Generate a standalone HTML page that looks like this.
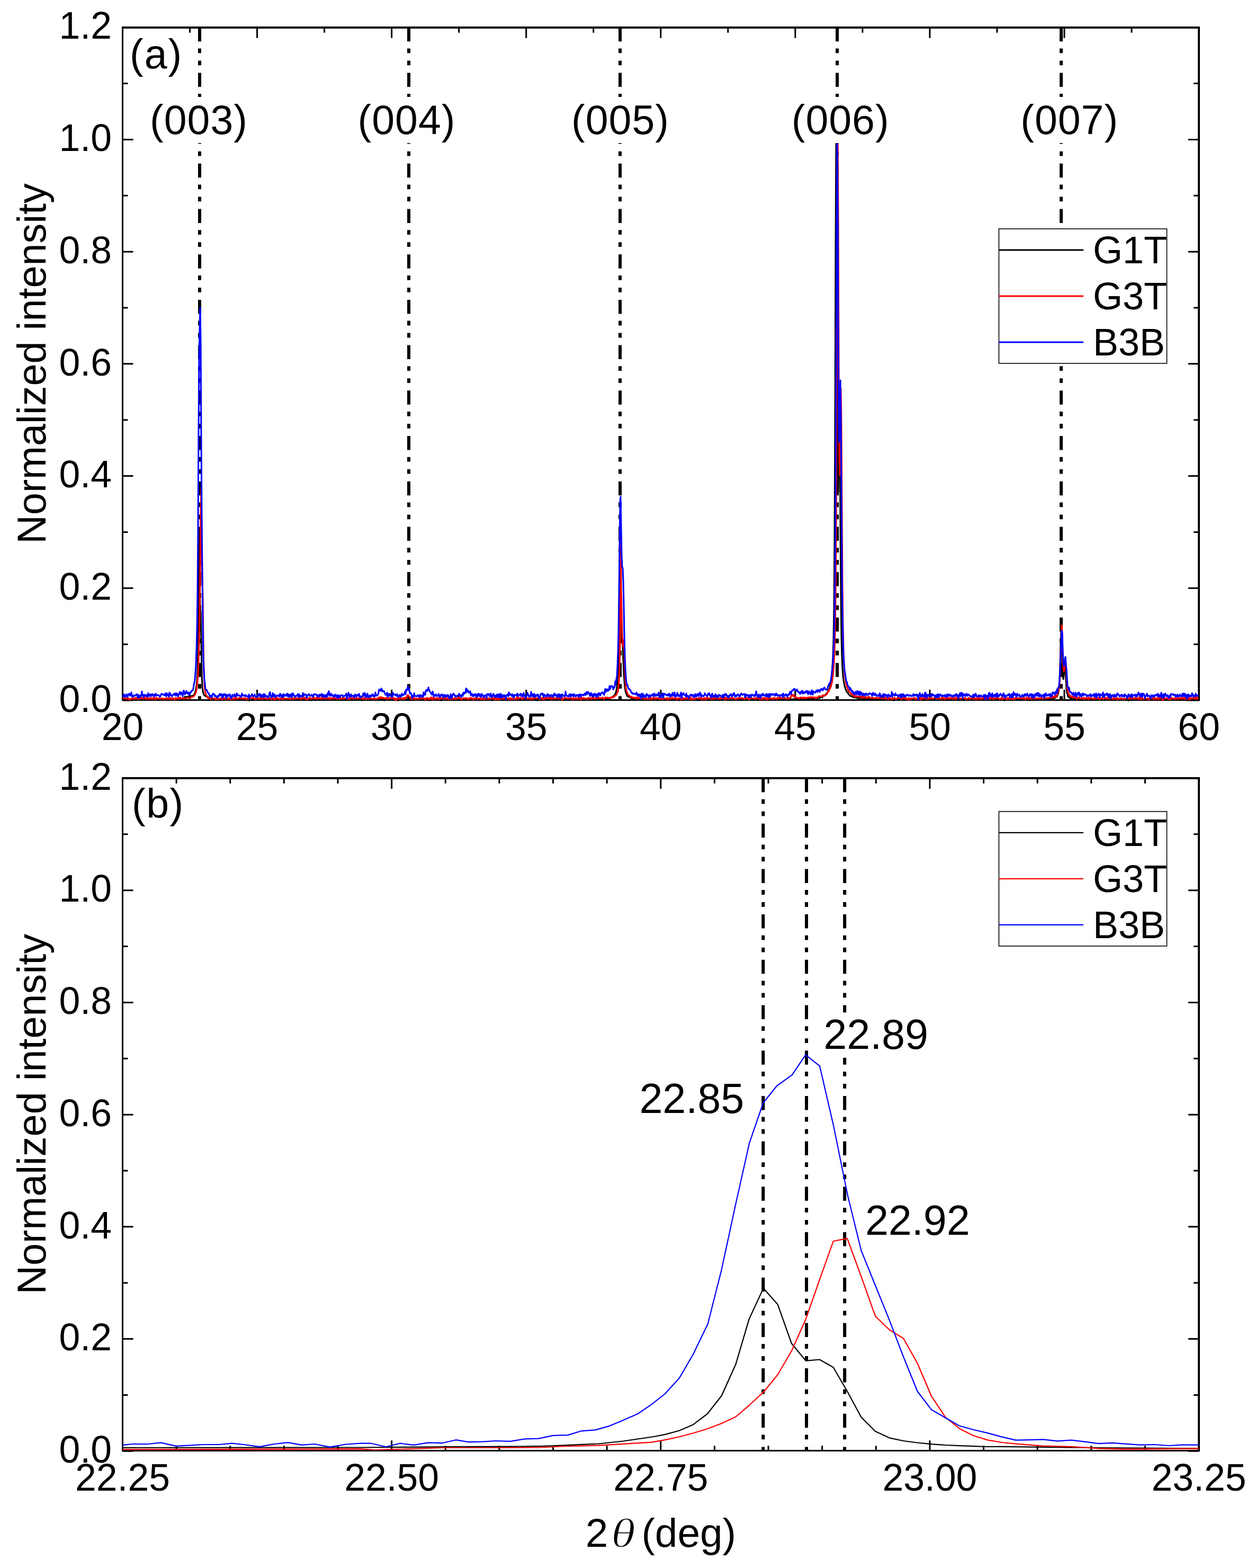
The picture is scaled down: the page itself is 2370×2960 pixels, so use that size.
<!DOCTYPE html>
<html><head><meta charset="utf-8"><title>XRD</title><style>html,body{margin:0;padding:0;background:#fff;}svg{display:block;}</style></head><body>
<svg width="2370" height="2960" viewBox="0 0 2370 2960" font-family="'Liberation Sans', sans-serif" fill="#000">
<rect width="2370" height="2960" fill="#fff"/>
<path d="M231.50,1322.00v-20M231.50,51.70v20M485.56,1322.00v-20M485.56,51.70v20M739.62,1322.00v-20M739.62,51.70v20M993.69,1322.00v-20M993.69,51.70v20M1247.75,1322.00v-20M1247.75,51.70v20M1501.81,1322.00v-20M1501.81,51.70v20M1755.88,1322.00v-20M1755.88,51.70v20M2009.94,1322.00v-20M2009.94,51.70v20M2264.00,1322.00v-20M2264.00,51.70v20M358.53,1322.00v-10M358.53,51.70v10M612.59,1322.00v-10M612.59,51.70v10M866.66,1322.00v-10M866.66,51.70v10M1120.72,1322.00v-10M1120.72,51.70v10M1374.78,1322.00v-10M1374.78,51.70v10M1628.84,1322.00v-10M1628.84,51.70v10M1882.91,1322.00v-10M1882.91,51.70v10M2136.97,1322.00v-10M2136.97,51.70v10M231.50,1322.00h20M2264.00,1322.00h-20M231.50,1216.14h10M2264.00,1216.14h-10M231.50,1110.28h20M2264.00,1110.28h-20M231.50,1004.42h10M2264.00,1004.42h-10M231.50,898.57h20M2264.00,898.57h-20M231.50,792.71h10M2264.00,792.71h-10M231.50,686.85h20M2264.00,686.85h-20M231.50,580.99h10M2264.00,580.99h-10M231.50,475.13h20M2264.00,475.13h-20M231.50,369.28h10M2264.00,369.28h-10M231.50,263.42h20M2264.00,263.42h-20M231.50,157.56h10M2264.00,157.56h-10M231.50,51.70h20M2264.00,51.70h-20" stroke="#000" stroke-width="3.0" fill="none"/>
<path d="M230,50h2036v4h-2036z M230,1320h2036v3h-2036z M230,50h3v1273h-3z M2262,50h4v1273h-4z" fill="#000"/>
<line x1="377" y1="51.7" x2="377" y2="1322.0" stroke="#000" stroke-width="6" stroke-dasharray="26.5 13.2 8.8 14.2 8.8 14.2"/>
<line x1="772" y1="51.7" x2="772" y2="1322.0" stroke="#000" stroke-width="6" stroke-dasharray="26.5 13.2 8.8 14.2 8.8 14.2"/>
<line x1="1171" y1="51.7" x2="1171" y2="1322.0" stroke="#000" stroke-width="6" stroke-dasharray="26.5 13.2 8.8 14.2 8.8 14.2"/>
<line x1="1581" y1="51.7" x2="1581" y2="1322.0" stroke="#000" stroke-width="6" stroke-dasharray="26.5 13.2 8.8 14.2 8.8 14.2"/>
<line x1="2004" y1="51.7" x2="2004" y2="1322.0" stroke="#000" stroke-width="6" stroke-dasharray="26.5 13.2 8.8 14.2 8.8 14.2"/>
<polyline points="232.0,1321.4 233.0,1321.0 234.0,1320.4 235.0,1321.1 236.0,1321.4 237.0,1321.7 238.0,1320.3 239.0,1320.8 240.0,1321.1 241.0,1321.3 242.0,1322.3 243.0,1320.7 244.0,1321.3 245.0,1320.7 246.0,1319.8 247.0,1320.9 248.0,1320.8 249.0,1320.1 250.0,1320.8 251.0,1320.6 252.0,1321.4 253.0,1321.3 254.0,1321.7 255.0,1320.1 256.0,1319.9 257.0,1321.0 258.0,1320.8 259.0,1320.9 260.0,1319.0 261.0,1320.0 262.0,1320.7 263.0,1320.2 264.0,1319.8 265.0,1321.3 266.0,1320.2 267.0,1320.2 268.0,1320.6 269.0,1320.1 270.0,1319.8 271.0,1320.6 272.0,1320.8 273.0,1320.0 274.0,1320.5 275.0,1320.3 276.0,1319.4 277.0,1320.4 278.0,1320.6 279.0,1321.4 280.0,1320.4 281.0,1320.4 282.0,1320.2 283.0,1320.2 284.0,1320.1 285.0,1320.4 286.0,1320.5 287.0,1320.2 288.0,1321.0 289.0,1321.2 290.0,1321.2 291.0,1320.5 292.0,1321.7 293.0,1320.9 294.0,1320.7 295.0,1320.4 296.0,1321.2 297.0,1320.5 298.0,1320.6 299.0,1320.9 300.0,1320.5 301.0,1320.7 302.0,1321.3 303.0,1320.8 304.0,1321.2 305.0,1319.4 306.0,1320.7 307.0,1321.0 308.0,1321.5 309.0,1320.6 310.0,1320.4 311.0,1320.6 312.0,1321.4 313.0,1321.2 314.0,1321.3 315.0,1320.5 316.0,1321.1 317.0,1320.6 318.0,1319.5 319.0,1321.8 320.0,1320.7 321.0,1320.6 322.0,1321.5 323.0,1319.9 324.0,1320.8 325.0,1320.4 326.0,1320.2 327.0,1319.7 328.0,1321.0 329.0,1321.0 330.0,1321.4 331.0,1321.4 332.0,1319.4 333.0,1320.9 334.0,1321.7 335.0,1320.2 336.0,1319.5 337.0,1321.2 338.0,1320.6 339.0,1321.5 340.0,1321.9 341.0,1320.7 342.0,1321.3 343.0,1321.3 344.0,1320.6 345.0,1320.3 346.0,1320.4 347.0,1317.9 348.0,1316.4 349.0,1315.6 350.0,1315.5 351.0,1315.5 352.0,1315.4 353.0,1315.4 354.0,1315.3 355.0,1315.3 356.0,1315.2 357.0,1315.2 358.0,1314.9 359.0,1314.6 360.0,1314.3 361.0,1314.0 362.0,1313.8 363.0,1313.6 364.0,1313.5 365.0,1313.1 366.0,1312.0 367.0,1310.4 368.0,1308.7 369.0,1305.2 370.0,1300.0 371.0,1294.0 372.0,1284.5 373.0,1264.9 374.0,1222.9 375.0,1127.9 376.0,1021.6 377.0,1072.6 378.0,1147.4 379.0,1155.3 380.0,1206.4 381.0,1270.1 382.0,1296.5 383.0,1304.3 384.0,1308.7 385.0,1311.3 386.0,1312.9 387.0,1313.6 388.0,1313.9 389.0,1314.4 390.0,1314.8 391.0,1315.3 392.0,1315.7 393.0,1316.0 394.0,1316.3 395.0,1318.3 396.0,1320.3 397.0,1320.4 398.0,1320.6 399.0,1320.5 400.0,1320.1 401.0,1320.3 402.0,1320.9 403.0,1320.2 404.0,1321.0 405.0,1319.5 406.0,1319.9 407.0,1320.6 408.0,1321.0 409.0,1320.3 410.0,1320.7 411.0,1321.1 412.0,1320.3 413.0,1320.5 414.0,1320.0 415.0,1320.7 416.0,1319.4 417.0,1319.5 418.0,1321.6 419.0,1321.9 420.0,1321.2 421.0,1319.6 422.0,1320.2 423.0,1320.5 424.0,1320.4 425.0,1321.4 426.0,1320.5 427.0,1321.2 428.0,1320.4 429.0,1320.8 430.0,1320.9 431.0,1320.9 432.0,1320.2 433.0,1319.4 434.0,1321.7 435.0,1320.1 436.0,1320.8 437.0,1319.6 438.0,1319.9 439.0,1321.1 440.0,1320.5 441.0,1319.7 442.0,1319.5 443.0,1321.0 444.0,1321.2 445.0,1320.4 446.0,1319.7 447.0,1320.0 448.0,1320.4 449.0,1320.2 450.0,1320.2 451.0,1320.5 452.0,1321.2 453.0,1320.1 454.0,1320.3 455.0,1320.0 456.0,1320.6 457.0,1320.9 458.0,1320.1 459.0,1320.0 460.0,1319.4 461.0,1321.4 462.0,1320.9 463.0,1320.7 464.0,1319.2 465.0,1322.0 466.0,1320.0 467.0,1321.1 468.0,1321.2 469.0,1320.1 470.0,1320.1 471.0,1322.6 472.0,1321.4 473.0,1320.6 474.0,1320.9 475.0,1319.9 476.0,1321.1 477.0,1320.8 478.0,1322.0 479.0,1320.3 480.0,1320.6 481.0,1320.1 482.0,1321.0 483.0,1319.4 484.0,1321.0 485.0,1319.5 486.0,1319.4 487.0,1321.2 488.0,1320.5 489.0,1321.0 490.0,1321.7 491.0,1320.3 492.0,1320.6 493.0,1319.8 494.0,1319.6 495.0,1321.7 496.0,1320.8 497.0,1320.4 498.0,1320.1 499.0,1320.5 500.0,1321.1 501.0,1320.8 502.0,1320.2 503.0,1321.4 504.0,1321.5 505.0,1321.4 506.0,1321.1 507.0,1319.8 508.0,1320.9 509.0,1320.2 510.0,1319.8 511.0,1319.9 512.0,1320.5 513.0,1320.7 514.0,1320.7 515.0,1320.8 516.0,1321.1 517.0,1320.3 518.0,1320.1 519.0,1321.0 520.0,1321.2 521.0,1320.7 522.0,1320.6 523.0,1320.1 524.0,1320.5 525.0,1320.6 526.0,1321.6 527.0,1320.9 528.0,1320.9 529.0,1321.0 530.0,1320.4 531.0,1320.6 532.0,1321.1 533.0,1320.4 534.0,1319.9 535.0,1319.2 536.0,1320.7 537.0,1320.9 538.0,1320.1 539.0,1319.6 540.0,1321.0 541.0,1320.2 542.0,1320.8 543.0,1320.1 544.0,1321.1 545.0,1320.9 546.0,1320.8 547.0,1320.7 548.0,1321.4 549.0,1320.8 550.0,1321.2 551.0,1319.5 552.0,1319.8 553.0,1321.0 554.0,1320.9 555.0,1320.4 556.0,1321.0 557.0,1321.0 558.0,1320.2 559.0,1319.9 560.0,1320.3 561.0,1319.8 562.0,1320.6 563.0,1320.7 564.0,1320.9 565.0,1320.9 566.0,1321.1 567.0,1319.7 568.0,1320.1 569.0,1320.7 570.0,1320.6 571.0,1321.2 572.0,1320.3 573.0,1320.8 574.0,1320.8 575.0,1320.8 576.0,1321.6 577.0,1321.0 578.0,1319.7 579.0,1321.2 580.0,1321.2 581.0,1320.8 582.0,1321.2 583.0,1321.3 584.0,1321.4 585.0,1321.3 586.0,1320.7 587.0,1322.1 588.0,1321.6 589.0,1321.5 590.0,1320.7 591.0,1321.2 592.0,1320.4 593.0,1321.2 594.0,1320.0 595.0,1321.8 596.0,1319.5 597.0,1321.5 598.0,1320.9 599.0,1321.3 600.0,1320.8 601.0,1319.7 602.0,1320.1 603.0,1321.0 604.0,1320.4 605.0,1319.6 606.0,1320.3 607.0,1320.8 608.0,1320.4 609.0,1320.4 610.0,1321.8 611.0,1321.0 612.0,1320.6 613.0,1319.5 614.0,1320.2 615.0,1320.5 616.0,1321.6 617.0,1320.9 618.0,1321.6 619.0,1320.6 620.0,1321.0 621.0,1320.1 622.0,1320.7 623.0,1320.6 624.0,1320.4 625.0,1320.1 626.0,1320.8 627.0,1321.0 628.0,1320.5 629.0,1318.7 630.0,1321.0 631.0,1321.1 632.0,1320.4 633.0,1321.6 634.0,1320.3 635.0,1321.4 636.0,1320.8 637.0,1320.8 638.0,1321.2 639.0,1320.3 640.0,1320.6 641.0,1320.0 642.0,1320.3 643.0,1320.9 644.0,1320.2 645.0,1320.2 646.0,1320.5 647.0,1320.5 648.0,1319.9 649.0,1321.0 650.0,1319.8 651.0,1320.5 652.0,1320.3 653.0,1320.0 654.0,1319.0 655.0,1321.2 656.0,1321.5 657.0,1319.9 658.0,1320.9 659.0,1320.6 660.0,1321.6 661.0,1319.9 662.0,1320.4 663.0,1321.6 664.0,1320.0 665.0,1320.7 666.0,1321.0 667.0,1321.7 668.0,1319.5 669.0,1321.2 670.0,1320.2 671.0,1321.0 672.0,1321.2 673.0,1320.0 674.0,1320.2 675.0,1320.2 676.0,1320.9 677.0,1320.3 678.0,1320.2 679.0,1319.8 680.0,1320.7 681.0,1320.4 682.0,1320.2 683.0,1322.1 684.0,1320.5 685.0,1319.7 686.0,1320.2 687.0,1320.4 688.0,1320.1 689.0,1319.8 690.0,1321.7 691.0,1321.0 692.0,1321.2 693.0,1321.5 694.0,1320.0 695.0,1321.2 696.0,1320.6 697.0,1320.2 698.0,1319.9 699.0,1321.5 700.0,1321.6 701.0,1321.9 702.0,1320.4 703.0,1321.2 704.0,1320.4 705.0,1320.0 706.0,1319.5 707.0,1321.3 708.0,1320.5 709.0,1320.6 710.0,1321.9 711.0,1320.2 712.0,1319.7 713.0,1321.4 714.0,1320.2 715.0,1320.4 716.0,1320.5 717.0,1321.3 718.0,1321.3 719.0,1319.1 720.0,1319.9 721.0,1320.5 722.0,1319.9 723.0,1321.3 724.0,1320.2 725.0,1320.9 726.0,1322.2 727.0,1321.3 728.0,1320.2 729.0,1320.1 730.0,1320.2 731.0,1320.6 732.0,1320.5 733.0,1321.7 734.0,1320.7 735.0,1318.7 736.0,1320.5 737.0,1320.9 738.0,1319.3 739.0,1320.7 740.0,1320.8 741.0,1320.6 742.0,1320.4 743.0,1321.4 744.0,1320.6 745.0,1320.9 746.0,1321.8 747.0,1320.5 748.0,1320.7 749.0,1321.0 750.0,1320.9 751.0,1320.0 752.0,1322.5 753.0,1320.1 754.0,1320.6 755.0,1320.6 756.0,1320.9 757.0,1320.8 758.0,1320.1 759.0,1321.2 760.0,1319.5 761.0,1321.4 762.0,1320.3 763.0,1320.7 764.0,1319.5 765.0,1319.8 766.0,1320.6 767.0,1318.0 768.0,1317.2 769.0,1314.7 770.0,1314.3 771.0,1315.5 772.0,1317.2 773.0,1318.3 774.0,1319.6 775.0,1320.4 776.0,1321.3 777.0,1320.4 778.0,1321.1 779.0,1321.9 780.0,1321.7 781.0,1319.4 782.0,1320.8 783.0,1321.2 784.0,1321.2 785.0,1320.8 786.0,1320.7 787.0,1320.7 788.0,1320.1 789.0,1321.0 790.0,1320.3 791.0,1320.6 792.0,1320.9 793.0,1320.2 794.0,1320.3 795.0,1321.1 796.0,1320.2 797.0,1320.9 798.0,1321.5 799.0,1319.3 800.0,1319.7 801.0,1321.8 802.0,1320.4 803.0,1320.5 804.0,1320.8 805.0,1321.2 806.0,1320.4 807.0,1320.4 808.0,1320.9 809.0,1320.1 810.0,1321.6 811.0,1322.2 812.0,1320.1 813.0,1319.6 814.0,1321.7 815.0,1321.3 816.0,1319.2 817.0,1320.7 818.0,1319.9 819.0,1319.8 820.0,1320.5 821.0,1321.2 822.0,1319.6 823.0,1320.4 824.0,1321.4 825.0,1321.4 826.0,1320.6 827.0,1321.6 828.0,1319.2 829.0,1320.2 830.0,1320.0 831.0,1320.8 832.0,1320.3 833.0,1322.1 834.0,1321.1 835.0,1320.4 836.0,1321.5 837.0,1321.3 838.0,1321.4 839.0,1320.1 840.0,1320.0 841.0,1320.8 842.0,1320.3 843.0,1320.8 844.0,1321.6 845.0,1321.3 846.0,1321.0 847.0,1320.3 848.0,1320.7 849.0,1320.0 850.0,1321.1 851.0,1320.2 852.0,1320.6 853.0,1319.8 854.0,1320.5 855.0,1320.1 856.0,1322.0 857.0,1320.3 858.0,1320.7 859.0,1320.2 860.0,1320.5 861.0,1321.4 862.0,1319.4 863.0,1319.4 864.0,1320.3 865.0,1319.7 866.0,1320.5 867.0,1319.4 868.0,1321.2 869.0,1320.0 870.0,1320.3 871.0,1321.6 872.0,1320.8 873.0,1320.1 874.0,1321.3 875.0,1321.0 876.0,1320.7 877.0,1320.8 878.0,1320.6 879.0,1320.6 880.0,1320.5 881.0,1321.0 882.0,1320.6 883.0,1321.3 884.0,1319.7 885.0,1320.9 886.0,1320.4 887.0,1320.8 888.0,1320.1 889.0,1321.0 890.0,1319.4 891.0,1320.3 892.0,1320.5 893.0,1319.7 894.0,1319.9 895.0,1320.5 896.0,1321.3 897.0,1320.4 898.0,1320.4 899.0,1321.1 900.0,1320.3 901.0,1320.8 902.0,1320.1 903.0,1320.7 904.0,1321.2 905.0,1321.9 906.0,1321.1 907.0,1321.7 908.0,1319.2 909.0,1319.7 910.0,1319.7 911.0,1320.4 912.0,1320.1 913.0,1321.6 914.0,1320.7 915.0,1321.5 916.0,1320.1 917.0,1320.6 918.0,1319.6 919.0,1321.2 920.0,1320.3 921.0,1319.9 922.0,1320.9 923.0,1320.5 924.0,1319.8 925.0,1321.6 926.0,1320.6 927.0,1320.8 928.0,1320.8 929.0,1322.0 930.0,1320.9 931.0,1322.0 932.0,1319.6 933.0,1320.8 934.0,1320.6 935.0,1321.1 936.0,1320.5 937.0,1321.1 938.0,1320.6 939.0,1320.0 940.0,1320.7 941.0,1320.4 942.0,1320.3 943.0,1320.2 944.0,1320.6 945.0,1320.5 946.0,1320.7 947.0,1321.8 948.0,1321.1 949.0,1319.7 950.0,1320.5 951.0,1320.7 952.0,1321.4 953.0,1321.0 954.0,1319.9 955.0,1319.4 956.0,1320.3 957.0,1321.3 958.0,1321.8 959.0,1320.9 960.0,1319.4 961.0,1320.1 962.0,1321.1 963.0,1320.7 964.0,1320.6 965.0,1319.8 966.0,1319.6 967.0,1319.9 968.0,1321.7 969.0,1319.9 970.0,1319.5 971.0,1320.9 972.0,1320.2 973.0,1320.3 974.0,1321.6 975.0,1321.7 976.0,1321.0 977.0,1321.0 978.0,1320.3 979.0,1321.2 980.0,1321.2 981.0,1321.0 982.0,1319.7 983.0,1320.8 984.0,1319.9 985.0,1320.0 986.0,1320.9 987.0,1320.4 988.0,1321.1 989.0,1320.6 990.0,1320.2 991.0,1320.7 992.0,1320.6 993.0,1320.6 994.0,1320.9 995.0,1319.7 996.0,1321.5 997.0,1320.6 998.0,1321.4 999.0,1321.0 1000.0,1320.6 1001.0,1319.1 1002.0,1320.7 1003.0,1320.7 1004.0,1320.4 1005.0,1320.9 1006.0,1321.4 1007.0,1320.1 1008.0,1320.3 1009.0,1320.8 1010.0,1320.8 1011.0,1319.8 1012.0,1320.9 1013.0,1321.2 1014.0,1321.1 1015.0,1322.4 1016.0,1320.0 1017.0,1320.3 1018.0,1320.3 1019.0,1321.7 1020.0,1320.0 1021.0,1320.7 1022.0,1320.6 1023.0,1319.6 1024.0,1320.0 1025.0,1321.6 1026.0,1320.9 1027.0,1320.6 1028.0,1320.7 1029.0,1321.0 1030.0,1320.5 1031.0,1320.5 1032.0,1320.9 1033.0,1320.0 1034.0,1321.2 1035.0,1320.7 1036.0,1321.4 1037.0,1320.6 1038.0,1320.1 1039.0,1319.5 1040.0,1321.1 1041.0,1321.6 1042.0,1321.3 1043.0,1320.9 1044.0,1320.1 1045.0,1321.3 1046.0,1320.7 1047.0,1319.3 1048.0,1320.4 1049.0,1320.1 1050.0,1320.2 1051.0,1321.2 1052.0,1319.8 1053.0,1319.4 1054.0,1320.6 1055.0,1320.6 1056.0,1320.9 1057.0,1320.0 1058.0,1320.7 1059.0,1319.5 1060.0,1320.5 1061.0,1320.3 1062.0,1320.0 1063.0,1321.2 1064.0,1321.8 1065.0,1320.3 1066.0,1321.0 1067.0,1321.6 1068.0,1320.8 1069.0,1320.0 1070.0,1320.9 1071.0,1319.9 1072.0,1320.9 1073.0,1320.7 1074.0,1321.9 1075.0,1321.1 1076.0,1320.5 1077.0,1320.6 1078.0,1321.4 1079.0,1320.3 1080.0,1318.6 1081.0,1319.8 1082.0,1320.3 1083.0,1321.3 1084.0,1321.4 1085.0,1320.6 1086.0,1321.1 1087.0,1320.0 1088.0,1321.0 1089.0,1320.5 1090.0,1320.7 1091.0,1320.4 1092.0,1320.8 1093.0,1320.7 1094.0,1320.5 1095.0,1320.1 1096.0,1320.4 1097.0,1321.1 1098.0,1321.1 1099.0,1320.8 1100.0,1320.9 1101.0,1320.7 1102.0,1320.5 1103.0,1319.3 1104.0,1320.4 1105.0,1320.7 1106.0,1320.0 1107.0,1319.9 1108.0,1320.2 1109.0,1320.9 1110.0,1320.2 1111.0,1319.7 1112.0,1321.2 1113.0,1320.3 1114.0,1320.6 1115.0,1319.7 1116.0,1319.2 1117.0,1320.4 1118.0,1320.1 1119.0,1319.5 1120.0,1319.2 1121.0,1318.7 1122.0,1320.3 1123.0,1318.7 1124.0,1320.0 1125.0,1319.7 1126.0,1320.4 1127.0,1319.6 1128.0,1320.4 1129.0,1319.5 1130.0,1320.3 1131.0,1319.8 1132.0,1320.6 1133.0,1320.6 1134.0,1319.8 1135.0,1319.5 1136.0,1319.4 1137.0,1319.6 1138.0,1320.6 1139.0,1319.7 1140.0,1318.5 1141.0,1319.9 1142.0,1319.2 1143.0,1318.9 1144.0,1319.2 1145.0,1318.9 1146.0,1318.3 1147.0,1318.8 1148.0,1317.1 1149.0,1319.1 1150.0,1317.9 1151.0,1318.1 1152.0,1318.7 1153.0,1316.6 1154.0,1316.8 1155.0,1316.5 1156.0,1315.6 1157.0,1316.6 1158.0,1314.8 1159.0,1313.5 1160.0,1313.2 1161.0,1311.9 1162.0,1309.1 1163.0,1307.7 1164.0,1303.4 1165.0,1296.1 1166.0,1284.0 1167.0,1264.7 1168.0,1233.8 1169.0,1191.4 1170.0,1154.5 1171.0,1149.7 1172.0,1174.2 1173.0,1199.9 1174.0,1209.7 1175.0,1211.3 1176.0,1221.9 1177.0,1246.2 1178.0,1269.8 1179.0,1286.0 1180.0,1297.4 1181.0,1304.1 1182.0,1307.9 1183.0,1310.1 1184.0,1312.8 1185.0,1314.8 1186.0,1314.5 1187.0,1314.1 1188.0,1315.9 1189.0,1316.1 1190.0,1316.8 1191.0,1317.9 1192.0,1317.7 1193.0,1318.2 1194.0,1318.6 1195.0,1317.3 1196.0,1318.9 1197.0,1319.1 1198.0,1319.8 1199.0,1319.0 1200.0,1317.8 1201.0,1319.0 1202.0,1317.9 1203.0,1319.2 1204.0,1319.8 1205.0,1320.5 1206.0,1320.0 1207.0,1319.4 1208.0,1321.3 1209.0,1319.7 1210.0,1319.2 1211.0,1319.5 1212.0,1321.3 1213.0,1321.0 1214.0,1320.4 1215.0,1321.5 1216.0,1320.2 1217.0,1320.7 1218.0,1319.9 1219.0,1320.2 1220.0,1320.1 1221.0,1320.3 1222.0,1320.0 1223.0,1320.1 1224.0,1321.3 1225.0,1319.9 1226.0,1320.0 1227.0,1321.1 1228.0,1320.6 1229.0,1319.9 1230.0,1320.8 1231.0,1320.1 1232.0,1321.2 1233.0,1320.4 1234.0,1319.1 1235.0,1319.5 1236.0,1319.4 1237.0,1319.4 1238.0,1320.3 1239.0,1320.3 1240.0,1319.8 1241.0,1320.5 1242.0,1321.2 1243.0,1319.7 1244.0,1319.6 1245.0,1320.0 1246.0,1319.9 1247.0,1320.9 1248.0,1320.0 1249.0,1320.4 1250.0,1320.1 1251.0,1320.7 1252.0,1320.7 1253.0,1321.3 1254.0,1320.3 1255.0,1321.3 1256.0,1321.5 1257.0,1320.7 1258.0,1320.5 1259.0,1320.9 1260.0,1319.7 1261.0,1320.1 1262.0,1321.3 1263.0,1320.9 1264.0,1320.9 1265.0,1318.7 1266.0,1321.0 1267.0,1320.8 1268.0,1320.3 1269.0,1320.1 1270.0,1320.6 1271.0,1319.5 1272.0,1321.5 1273.0,1319.9 1274.0,1321.0 1275.0,1319.4 1276.0,1319.5 1277.0,1320.7 1278.0,1320.3 1279.0,1321.0 1280.0,1321.1 1281.0,1320.3 1282.0,1321.9 1283.0,1319.5 1284.0,1321.3 1285.0,1319.1 1286.0,1320.5 1287.0,1321.0 1288.0,1321.1 1289.0,1320.2 1290.0,1322.0 1291.0,1320.1 1292.0,1321.0 1293.0,1321.1 1294.0,1321.0 1295.0,1320.8 1296.0,1320.1 1297.0,1320.0 1298.0,1320.1 1299.0,1321.6 1300.0,1319.6 1301.0,1320.3 1302.0,1320.4 1303.0,1321.4 1304.0,1320.0 1305.0,1320.7 1306.0,1320.2 1307.0,1320.0 1308.0,1319.3 1309.0,1320.3 1310.0,1321.4 1311.0,1320.2 1312.0,1321.3 1313.0,1320.5 1314.0,1321.3 1315.0,1319.7 1316.0,1319.1 1317.0,1321.9 1318.0,1321.2 1319.0,1320.8 1320.0,1322.0 1321.0,1321.2 1322.0,1320.6 1323.0,1320.4 1324.0,1321.8 1325.0,1320.5 1326.0,1320.2 1327.0,1320.1 1328.0,1321.1 1329.0,1321.2 1330.0,1321.0 1331.0,1319.6 1332.0,1320.1 1333.0,1321.4 1334.0,1320.3 1335.0,1320.8 1336.0,1321.1 1337.0,1320.2 1338.0,1320.7 1339.0,1319.9 1340.0,1319.6 1341.0,1320.9 1342.0,1320.1 1343.0,1319.6 1344.0,1320.8 1345.0,1320.9 1346.0,1320.7 1347.0,1320.2 1348.0,1321.5 1349.0,1320.2 1350.0,1320.8 1351.0,1320.1 1352.0,1320.4 1353.0,1318.8 1354.0,1320.5 1355.0,1319.8 1356.0,1320.4 1357.0,1319.8 1358.0,1320.3 1359.0,1321.8 1360.0,1321.8 1361.0,1321.2 1362.0,1320.7 1363.0,1319.6 1364.0,1320.8 1365.0,1320.1 1366.0,1320.8 1367.0,1320.2 1368.0,1320.8 1369.0,1320.8 1370.0,1320.8 1371.0,1321.5 1372.0,1319.9 1373.0,1320.4 1374.0,1321.0 1375.0,1321.2 1376.0,1320.6 1377.0,1320.6 1378.0,1320.5 1379.0,1320.8 1380.0,1319.4 1381.0,1320.4 1382.0,1320.9 1383.0,1320.3 1384.0,1320.1 1385.0,1320.0 1386.0,1320.6 1387.0,1320.6 1388.0,1321.2 1389.0,1320.6 1390.0,1320.0 1391.0,1321.0 1392.0,1320.0 1393.0,1319.7 1394.0,1320.2 1395.0,1320.3 1396.0,1319.8 1397.0,1321.0 1398.0,1320.7 1399.0,1320.1 1400.0,1320.1 1401.0,1320.0 1402.0,1321.8 1403.0,1319.7 1404.0,1321.1 1405.0,1320.3 1406.0,1321.0 1407.0,1320.5 1408.0,1321.1 1409.0,1320.5 1410.0,1320.3 1411.0,1319.9 1412.0,1320.4 1413.0,1320.7 1414.0,1321.6 1415.0,1321.3 1416.0,1321.0 1417.0,1320.8 1418.0,1319.8 1419.0,1321.2 1420.0,1320.5 1421.0,1320.4 1422.0,1319.8 1423.0,1320.8 1424.0,1320.5 1425.0,1320.4 1426.0,1320.2 1427.0,1319.4 1428.0,1320.7 1429.0,1320.6 1430.0,1320.4 1431.0,1321.5 1432.0,1319.7 1433.0,1319.9 1434.0,1320.7 1435.0,1319.9 1436.0,1320.6 1437.0,1319.6 1438.0,1319.0 1439.0,1319.5 1440.0,1319.3 1441.0,1318.9 1442.0,1319.7 1443.0,1320.3 1444.0,1320.7 1445.0,1318.4 1446.0,1321.8 1447.0,1318.2 1448.0,1320.6 1449.0,1320.1 1450.0,1320.5 1451.0,1320.2 1452.0,1320.7 1453.0,1320.3 1454.0,1320.3 1455.0,1320.0 1456.0,1321.2 1457.0,1318.6 1458.0,1321.2 1459.0,1320.5 1460.0,1320.0 1461.0,1320.9 1462.0,1320.4 1463.0,1320.4 1464.0,1321.5 1465.0,1320.5 1466.0,1320.5 1467.0,1320.0 1468.0,1319.3 1469.0,1320.8 1470.0,1320.4 1471.0,1320.0 1472.0,1320.8 1473.0,1319.7 1474.0,1320.3 1475.0,1319.0 1476.0,1321.3 1477.0,1320.7 1478.0,1321.7 1479.0,1320.4 1480.0,1320.7 1481.0,1320.7 1482.0,1321.4 1483.0,1320.1 1484.0,1320.7 1485.0,1320.7 1486.0,1319.5 1487.0,1319.0 1488.0,1321.0 1489.0,1321.7 1490.0,1320.4 1491.0,1319.8 1492.0,1319.5 1493.0,1319.9 1494.0,1320.5 1495.0,1320.0 1496.0,1320.1 1497.0,1320.4 1498.0,1319.7 1499.0,1320.2 1500.0,1319.8 1501.0,1319.6 1502.0,1319.6 1503.0,1321.2 1504.0,1320.1 1505.0,1320.3 1506.0,1319.3 1507.0,1320.7 1508.0,1319.8 1509.0,1318.4 1510.0,1319.7 1511.0,1320.2 1512.0,1319.8 1513.0,1319.7 1514.0,1319.5 1515.0,1319.5 1516.0,1319.3 1517.0,1320.2 1518.0,1320.7 1519.0,1320.3 1520.0,1319.5 1521.0,1319.1 1522.0,1319.5 1523.0,1317.8 1524.0,1319.4 1525.0,1319.1 1526.0,1318.6 1527.0,1318.9 1528.0,1318.7 1529.0,1319.3 1530.0,1318.8 1531.0,1319.5 1532.0,1318.0 1533.0,1318.9 1534.0,1318.6 1535.0,1318.0 1536.0,1319.1 1537.0,1318.5 1538.0,1319.8 1539.0,1317.7 1540.0,1317.4 1541.0,1317.8 1542.0,1317.8 1543.0,1319.0 1544.0,1317.0 1545.0,1317.7 1546.0,1317.9 1547.0,1315.8 1548.0,1318.0 1549.0,1317.1 1550.0,1315.3 1551.0,1315.0 1552.0,1315.7 1553.0,1317.0 1554.0,1314.6 1555.0,1313.2 1556.0,1313.1 1557.0,1313.5 1558.0,1311.6 1559.0,1310.8 1560.0,1310.3 1561.0,1309.1 1562.0,1307.5 1563.0,1306.7 1564.0,1303.5 1565.0,1303.2 1566.0,1299.9 1567.0,1296.6 1568.0,1292.8 1569.0,1288.0 1570.0,1280.5 1571.0,1271.3 1572.0,1257.4 1573.0,1239.9 1574.0,1206.1 1575.0,1145.1 1576.0,1019.1 1577.0,787.4 1578.0,462.2 1579.0,261.9 1580.0,439.1 1581.0,735.8 1582.0,908.8 1583.0,928.9 1584.0,835.3 1585.0,741.5 1586.0,820.4 1587.0,993.0 1588.0,1126.7 1589.0,1203.5 1590.0,1241.9 1591.0,1262.1 1592.0,1276.1 1593.0,1284.0 1594.0,1290.1 1595.0,1295.3 1596.0,1298.1 1597.0,1301.7 1598.0,1302.7 1599.0,1306.4 1600.0,1306.4 1601.0,1307.3 1602.0,1309.8 1603.0,1311.5 1604.0,1312.0 1605.0,1312.4 1606.0,1314.2 1607.0,1313.9 1608.0,1314.3 1609.0,1314.2 1610.0,1315.7 1611.0,1315.7 1612.0,1316.2 1613.0,1316.6 1614.0,1317.0 1615.0,1316.7 1616.0,1316.5 1617.0,1316.6 1618.0,1317.1 1619.0,1318.3 1620.0,1317.5 1621.0,1317.6 1622.0,1317.5 1623.0,1318.7 1624.0,1318.4 1625.0,1317.7 1626.0,1317.9 1627.0,1317.9 1628.0,1317.5 1629.0,1318.7 1630.0,1318.6 1631.0,1318.3 1632.0,1318.7 1633.0,1319.1 1634.0,1319.6 1635.0,1318.4 1636.0,1320.0 1637.0,1320.1 1638.0,1319.0 1639.0,1320.0 1640.0,1319.3 1641.0,1319.9 1642.0,1319.2 1643.0,1320.7 1644.0,1318.4 1645.0,1319.5 1646.0,1319.8 1647.0,1319.4 1648.0,1319.3 1649.0,1319.3 1650.0,1319.2 1651.0,1320.9 1652.0,1320.2 1653.0,1320.2 1654.0,1319.9 1655.0,1319.4 1656.0,1319.2 1657.0,1319.5 1658.0,1320.6 1659.0,1320.8 1660.0,1319.9 1661.0,1321.2 1662.0,1320.9 1663.0,1320.4 1664.0,1320.6 1665.0,1320.6 1666.0,1320.0 1667.0,1320.3 1668.0,1319.6 1669.0,1320.0 1670.0,1320.6 1671.0,1319.7 1672.0,1319.2 1673.0,1319.7 1674.0,1320.5 1675.0,1320.5 1676.0,1319.7 1677.0,1320.5 1678.0,1321.1 1679.0,1318.6 1680.0,1320.2 1681.0,1319.8 1682.0,1319.6 1683.0,1320.0 1684.0,1320.7 1685.0,1320.5 1686.0,1321.1 1687.0,1320.6 1688.0,1322.2 1689.0,1321.0 1690.0,1320.3 1691.0,1320.5 1692.0,1319.4 1693.0,1320.8 1694.0,1320.1 1695.0,1321.5 1696.0,1320.0 1697.0,1320.7 1698.0,1321.1 1699.0,1319.8 1700.0,1321.4 1701.0,1320.5 1702.0,1321.2 1703.0,1319.9 1704.0,1320.7 1705.0,1319.9 1706.0,1320.8 1707.0,1320.9 1708.0,1320.8 1709.0,1319.8 1710.0,1320.8 1711.0,1320.0 1712.0,1321.0 1713.0,1319.8 1714.0,1320.0 1715.0,1319.9 1716.0,1320.7 1717.0,1320.9 1718.0,1320.3 1719.0,1320.9 1720.0,1321.1 1721.0,1320.2 1722.0,1320.8 1723.0,1319.7 1724.0,1319.2 1725.0,1321.3 1726.0,1319.6 1727.0,1319.7 1728.0,1320.9 1729.0,1321.0 1730.0,1320.3 1731.0,1319.9 1732.0,1320.7 1733.0,1320.3 1734.0,1319.5 1735.0,1321.4 1736.0,1320.2 1737.0,1320.5 1738.0,1319.6 1739.0,1319.0 1740.0,1320.9 1741.0,1320.7 1742.0,1320.6 1743.0,1321.3 1744.0,1320.7 1745.0,1321.7 1746.0,1320.4 1747.0,1319.9 1748.0,1321.3 1749.0,1321.8 1750.0,1321.3 1751.0,1320.6 1752.0,1320.6 1753.0,1320.5 1754.0,1319.9 1755.0,1321.0 1756.0,1320.4 1757.0,1320.2 1758.0,1321.6 1759.0,1320.0 1760.0,1319.9 1761.0,1321.5 1762.0,1319.6 1763.0,1320.7 1764.0,1320.5 1765.0,1320.1 1766.0,1321.1 1767.0,1320.8 1768.0,1320.2 1769.0,1319.0 1770.0,1320.1 1771.0,1320.3 1772.0,1320.2 1773.0,1319.8 1774.0,1320.6 1775.0,1320.9 1776.0,1320.3 1777.0,1319.5 1778.0,1319.9 1779.0,1320.9 1780.0,1319.8 1781.0,1321.0 1782.0,1321.0 1783.0,1320.4 1784.0,1320.4 1785.0,1319.9 1786.0,1319.7 1787.0,1321.0 1788.0,1320.5 1789.0,1321.8 1790.0,1320.2 1791.0,1321.0 1792.0,1320.5 1793.0,1320.4 1794.0,1320.7 1795.0,1320.8 1796.0,1320.3 1797.0,1321.7 1798.0,1319.9 1799.0,1319.5 1800.0,1320.8 1801.0,1319.8 1802.0,1320.4 1803.0,1320.7 1804.0,1320.4 1805.0,1320.0 1806.0,1319.8 1807.0,1321.7 1808.0,1320.8 1809.0,1320.4 1810.0,1320.3 1811.0,1321.0 1812.0,1321.8 1813.0,1321.6 1814.0,1320.4 1815.0,1321.4 1816.0,1321.1 1817.0,1321.0 1818.0,1321.2 1819.0,1320.7 1820.0,1320.9 1821.0,1321.9 1822.0,1320.1 1823.0,1320.5 1824.0,1321.2 1825.0,1321.6 1826.0,1321.1 1827.0,1320.8 1828.0,1320.5 1829.0,1319.6 1830.0,1320.1 1831.0,1320.4 1832.0,1320.2 1833.0,1321.2 1834.0,1320.9 1835.0,1320.8 1836.0,1319.5 1837.0,1320.0 1838.0,1320.0 1839.0,1320.0 1840.0,1321.1 1841.0,1320.9 1842.0,1321.0 1843.0,1319.8 1844.0,1320.8 1845.0,1320.7 1846.0,1321.1 1847.0,1319.7 1848.0,1321.0 1849.0,1320.8 1850.0,1321.2 1851.0,1320.7 1852.0,1320.2 1853.0,1320.4 1854.0,1320.3 1855.0,1321.4 1856.0,1320.7 1857.0,1319.9 1858.0,1320.5 1859.0,1320.3 1860.0,1320.6 1861.0,1320.0 1862.0,1320.8 1863.0,1320.4 1864.0,1320.4 1865.0,1321.2 1866.0,1319.6 1867.0,1320.5 1868.0,1319.8 1869.0,1319.9 1870.0,1321.3 1871.0,1320.3 1872.0,1321.3 1873.0,1319.6 1874.0,1320.6 1875.0,1320.2 1876.0,1321.5 1877.0,1320.8 1878.0,1320.4 1879.0,1319.8 1880.0,1320.6 1881.0,1320.8 1882.0,1320.2 1883.0,1321.0 1884.0,1321.1 1885.0,1320.5 1886.0,1320.4 1887.0,1321.4 1888.0,1321.0 1889.0,1320.2 1890.0,1320.5 1891.0,1321.1 1892.0,1320.5 1893.0,1320.4 1894.0,1319.7 1895.0,1321.5 1896.0,1319.9 1897.0,1322.3 1898.0,1321.8 1899.0,1319.9 1900.0,1320.9 1901.0,1320.9 1902.0,1320.9 1903.0,1320.1 1904.0,1320.8 1905.0,1320.1 1906.0,1321.4 1907.0,1319.3 1908.0,1319.9 1909.0,1320.3 1910.0,1320.4 1911.0,1321.6 1912.0,1319.4 1913.0,1320.3 1914.0,1320.9 1915.0,1319.7 1916.0,1321.5 1917.0,1321.2 1918.0,1319.6 1919.0,1321.0 1920.0,1320.2 1921.0,1320.1 1922.0,1320.6 1923.0,1320.2 1924.0,1320.5 1925.0,1320.1 1926.0,1319.6 1927.0,1320.6 1928.0,1319.4 1929.0,1321.6 1930.0,1319.8 1931.0,1321.3 1932.0,1320.8 1933.0,1320.0 1934.0,1321.5 1935.0,1319.9 1936.0,1320.7 1937.0,1319.8 1938.0,1320.4 1939.0,1320.7 1940.0,1320.5 1941.0,1320.6 1942.0,1320.5 1943.0,1319.5 1944.0,1321.2 1945.0,1322.0 1946.0,1321.2 1947.0,1321.5 1948.0,1320.3 1949.0,1320.9 1950.0,1320.3 1951.0,1320.4 1952.0,1320.4 1953.0,1321.0 1954.0,1320.3 1955.0,1319.8 1956.0,1320.5 1957.0,1321.7 1958.0,1321.6 1959.0,1320.1 1960.0,1320.9 1961.0,1319.2 1962.0,1319.4 1963.0,1320.7 1964.0,1320.6 1965.0,1319.9 1966.0,1319.5 1967.0,1319.4 1968.0,1320.0 1969.0,1320.6 1970.0,1319.3 1971.0,1319.1 1972.0,1319.8 1973.0,1320.8 1974.0,1318.9 1975.0,1319.9 1976.0,1320.0 1977.0,1319.2 1978.0,1319.4 1979.0,1318.7 1980.0,1319.9 1981.0,1319.8 1982.0,1319.9 1983.0,1320.0 1984.0,1319.4 1985.0,1319.8 1986.0,1320.1 1987.0,1319.3 1988.0,1319.1 1989.0,1318.4 1990.0,1318.6 1991.0,1317.9 1992.0,1317.4 1993.0,1317.6 1994.0,1315.8 1995.0,1315.6 1996.0,1315.4 1997.0,1312.5 1998.0,1310.7 1999.0,1306.4 2000.0,1297.0 2001.0,1282.9 2002.0,1254.6 2003.0,1213.6 2004.0,1188.1 2005.0,1210.3 2006.0,1249.3 2007.0,1275.3 2008.0,1282.0 2009.0,1274.9 2010.0,1258.8 2011.0,1249.8 2012.0,1263.0 2013.0,1284.2 2014.0,1300.3 2015.0,1308.1 2016.0,1310.9 2017.0,1314.9 2018.0,1315.8 2019.0,1316.0 2020.0,1317.7 2021.0,1317.6 2022.0,1318.5 2023.0,1318.8 2024.0,1317.1 2025.0,1319.7 2026.0,1320.0 2027.0,1318.9 2028.0,1318.1 2029.0,1320.5 2030.0,1320.1 2031.0,1319.5 2032.0,1319.5 2033.0,1319.8 2034.0,1320.2 2035.0,1319.9 2036.0,1321.2 2037.0,1319.7 2038.0,1320.3 2039.0,1319.4 2040.0,1319.4 2041.0,1320.4 2042.0,1319.6 2043.0,1321.7 2044.0,1320.4 2045.0,1319.8 2046.0,1320.2 2047.0,1321.0 2048.0,1320.3 2049.0,1319.8 2050.0,1320.7 2051.0,1320.8 2052.0,1320.6 2053.0,1320.8 2054.0,1320.4 2055.0,1319.8 2056.0,1320.2 2057.0,1320.8 2058.0,1320.2 2059.0,1320.2 2060.0,1321.0 2061.0,1321.6 2062.0,1320.6 2063.0,1318.6 2064.0,1320.7 2065.0,1321.1 2066.0,1321.6 2067.0,1320.1 2068.0,1321.3 2069.0,1321.0 2070.0,1320.1 2071.0,1319.7 2072.0,1320.3 2073.0,1321.0 2074.0,1320.6 2075.0,1320.0 2076.0,1320.2 2077.0,1320.0 2078.0,1320.5 2079.0,1320.4 2080.0,1321.1 2081.0,1320.2 2082.0,1320.9 2083.0,1320.9 2084.0,1320.2 2085.0,1320.7 2086.0,1320.8 2087.0,1320.5 2088.0,1321.1 2089.0,1320.4 2090.0,1320.9 2091.0,1320.4 2092.0,1321.2 2093.0,1319.9 2094.0,1320.7 2095.0,1320.0 2096.0,1320.1 2097.0,1320.1 2098.0,1320.3 2099.0,1319.6 2100.0,1321.0 2101.0,1320.5 2102.0,1321.6 2103.0,1322.0 2104.0,1321.3 2105.0,1320.6 2106.0,1321.2 2107.0,1321.1 2108.0,1319.8 2109.0,1320.6 2110.0,1319.7 2111.0,1320.2 2112.0,1321.1 2113.0,1320.9 2114.0,1321.3 2115.0,1321.5 2116.0,1321.0 2117.0,1320.4 2118.0,1320.0 2119.0,1320.4 2120.0,1320.7 2121.0,1320.7 2122.0,1319.8 2123.0,1320.9 2124.0,1320.7 2125.0,1319.8 2126.0,1320.8 2127.0,1321.3 2128.0,1321.4 2129.0,1319.6 2130.0,1320.7 2131.0,1322.6 2132.0,1321.2 2133.0,1320.1 2134.0,1320.1 2135.0,1320.2 2136.0,1320.0 2137.0,1321.9 2138.0,1320.3 2139.0,1320.9 2140.0,1320.9 2141.0,1319.7 2142.0,1320.2 2143.0,1320.8 2144.0,1320.3 2145.0,1320.1 2146.0,1320.8 2147.0,1320.2 2148.0,1320.2 2149.0,1320.3 2150.0,1319.7 2151.0,1321.3 2152.0,1320.3 2153.0,1321.4 2154.0,1321.2 2155.0,1320.7 2156.0,1320.8 2157.0,1320.2 2158.0,1319.8 2159.0,1320.5 2160.0,1321.1 2161.0,1320.2 2162.0,1320.4 2163.0,1320.6 2164.0,1319.8 2165.0,1319.9 2166.0,1321.4 2167.0,1320.4 2168.0,1321.4 2169.0,1321.4 2170.0,1319.8 2171.0,1321.5 2172.0,1321.0 2173.0,1321.3 2174.0,1320.2 2175.0,1319.7 2176.0,1321.6 2177.0,1320.9 2178.0,1319.5 2179.0,1319.6 2180.0,1320.3 2181.0,1320.8 2182.0,1319.4 2183.0,1321.3 2184.0,1320.1 2185.0,1320.5 2186.0,1321.8 2187.0,1320.8 2188.0,1320.4 2189.0,1320.9 2190.0,1320.1 2191.0,1321.6 2192.0,1319.3 2193.0,1320.0 2194.0,1320.7 2195.0,1320.3 2196.0,1320.8 2197.0,1321.6 2198.0,1320.2 2199.0,1320.7 2200.0,1320.4 2201.0,1320.1 2202.0,1319.6 2203.0,1321.2 2204.0,1319.4 2205.0,1320.8 2206.0,1319.5 2207.0,1320.8 2208.0,1321.6 2209.0,1320.7 2210.0,1321.7 2211.0,1320.5 2212.0,1320.1 2213.0,1320.5 2214.0,1320.2 2215.0,1319.6 2216.0,1319.8 2217.0,1320.5 2218.0,1319.7 2219.0,1321.0 2220.0,1320.6 2221.0,1321.0 2222.0,1320.8 2223.0,1320.6 2224.0,1320.8 2225.0,1320.6 2226.0,1321.0 2227.0,1319.9 2228.0,1320.7 2229.0,1321.1 2230.0,1320.6 2231.0,1321.4 2232.0,1321.1 2233.0,1321.5 2234.0,1319.4 2235.0,1320.6 2236.0,1319.5 2237.0,1320.9 2238.0,1320.4 2239.0,1321.8 2240.0,1320.4 2241.0,1320.0 2242.0,1322.2 2243.0,1320.5 2244.0,1319.8 2245.0,1321.4 2246.0,1321.6 2247.0,1320.2 2248.0,1320.9 2249.0,1321.4 2250.0,1320.4 2251.0,1319.3 2252.0,1319.9 2253.0,1320.3 2254.0,1321.1 2255.0,1321.4 2256.0,1321.0 2257.0,1320.3 2258.0,1321.1 2259.0,1319.7 2260.0,1319.3 2261.0,1321.1 2262.0,1321.3 2263.0,1320.2" fill="none" stroke="#000" stroke-width="3" stroke-linejoin="round"/>
<polyline points="232.0,1318.1 233.0,1318.7 234.0,1315.2 235.0,1318.1 236.0,1318.4 237.0,1318.2 238.0,1319.1 239.0,1319.3 240.0,1318.1 241.0,1319.1 242.0,1317.8 243.0,1318.8 244.0,1320.4 245.0,1319.9 246.0,1319.5 247.0,1320.6 248.0,1318.7 249.0,1318.9 250.0,1317.7 251.0,1319.5 252.0,1318.8 253.0,1318.0 254.0,1317.9 255.0,1319.6 256.0,1317.1 257.0,1319.2 258.0,1317.4 259.0,1318.9 260.0,1319.0 261.0,1319.9 262.0,1318.7 263.0,1316.2 264.0,1319.2 265.0,1317.1 266.0,1317.3 267.0,1319.0 268.0,1317.5 269.0,1317.2 270.0,1318.9 271.0,1319.1 272.0,1317.5 273.0,1318.3 274.0,1316.5 275.0,1318.2 276.0,1319.8 277.0,1318.7 278.0,1319.8 279.0,1317.9 280.0,1317.9 281.0,1319.0 282.0,1319.5 283.0,1317.7 284.0,1319.0 285.0,1317.4 286.0,1319.6 287.0,1318.9 288.0,1319.2 289.0,1319.6 290.0,1315.9 291.0,1316.9 292.0,1319.2 293.0,1317.8 294.0,1320.4 295.0,1317.4 296.0,1317.5 297.0,1318.9 298.0,1319.0 299.0,1318.4 300.0,1318.1 301.0,1319.0 302.0,1319.5 303.0,1318.9 304.0,1319.0 305.0,1317.8 306.0,1318.5 307.0,1318.4 308.0,1320.3 309.0,1319.0 310.0,1319.0 311.0,1319.1 312.0,1318.7 313.0,1318.9 314.0,1320.1 315.0,1317.7 316.0,1317.7 317.0,1319.1 318.0,1318.0 319.0,1319.5 320.0,1319.9 321.0,1318.8 322.0,1317.0 323.0,1318.7 324.0,1320.1 325.0,1318.3 326.0,1319.2 327.0,1319.3 328.0,1318.2 329.0,1320.3 330.0,1320.4 331.0,1320.0 332.0,1317.5 333.0,1318.5 334.0,1319.2 335.0,1319.3 336.0,1317.9 337.0,1317.3 338.0,1319.3 339.0,1318.3 340.0,1316.2 341.0,1318.0 342.0,1318.9 343.0,1318.2 344.0,1318.5 345.0,1317.9 346.0,1318.2 347.0,1319.0 348.0,1318.7 349.0,1318.2 350.0,1318.7 351.0,1318.5 352.0,1318.4 353.0,1317.3 354.0,1317.0 355.0,1318.1 356.0,1317.7 357.0,1317.9 358.0,1318.5 359.0,1318.1 360.0,1316.9 361.0,1315.7 362.0,1315.7 363.0,1315.7 364.0,1315.6 365.0,1315.3 366.0,1314.3 367.0,1312.7 368.0,1311.6 369.0,1309.7 370.0,1307.3 371.0,1303.9 372.0,1295.9 373.0,1285.3 374.0,1271.5 375.0,1249.6 376.0,1213.7 377.0,1161.1 378.0,1080.4 379.0,968.6 380.0,920.8 381.0,1026.3 382.0,1091.8 383.0,1131.1 384.0,1216.9 385.0,1268.6 386.0,1292.8 387.0,1303.4 388.0,1308.4 389.0,1311.4 390.0,1313.0 391.0,1314.6 392.0,1317.1 393.0,1317.7 394.0,1317.8 395.0,1317.1 396.0,1317.6 397.0,1319.4 398.0,1319.8 399.0,1317.2 400.0,1319.2 401.0,1318.7 402.0,1318.7 403.0,1318.1 404.0,1318.0 405.0,1319.6 406.0,1319.2 407.0,1320.3 408.0,1318.0 409.0,1318.7 410.0,1320.2 411.0,1317.5 412.0,1318.5 413.0,1319.5 414.0,1319.0 415.0,1319.1 416.0,1318.4 417.0,1318.3 418.0,1319.1 419.0,1318.1 420.0,1321.1 421.0,1318.9 422.0,1317.9 423.0,1317.6 424.0,1317.8 425.0,1319.6 426.0,1320.2 427.0,1318.9 428.0,1316.3 429.0,1318.3 430.0,1319.3 431.0,1320.2 432.0,1318.4 433.0,1319.0 434.0,1318.1 435.0,1318.4 436.0,1320.9 437.0,1318.7 438.0,1317.8 439.0,1319.1 440.0,1319.7 441.0,1319.7 442.0,1319.9 443.0,1316.4 444.0,1317.2 445.0,1319.2 446.0,1317.2 447.0,1319.6 448.0,1319.1 449.0,1319.3 450.0,1318.7 451.0,1317.9 452.0,1316.6 453.0,1317.8 454.0,1318.7 455.0,1318.4 456.0,1318.8 457.0,1318.2 458.0,1319.4 459.0,1318.3 460.0,1318.1 461.0,1317.6 462.0,1319.4 463.0,1318.2 464.0,1318.3 465.0,1319.4 466.0,1320.5 467.0,1319.1 468.0,1317.7 469.0,1318.8 470.0,1316.3 471.0,1318.0 472.0,1319.3 473.0,1318.7 474.0,1318.1 475.0,1318.1 476.0,1318.8 477.0,1318.1 478.0,1315.7 479.0,1317.7 480.0,1318.4 481.0,1319.0 482.0,1320.3 483.0,1318.4 484.0,1319.0 485.0,1318.6 486.0,1319.1 487.0,1317.8 488.0,1317.5 489.0,1319.3 490.0,1319.9 491.0,1318.3 492.0,1317.2 493.0,1318.2 494.0,1318.1 495.0,1319.9 496.0,1319.1 497.0,1318.0 498.0,1318.2 499.0,1318.6 500.0,1318.0 501.0,1317.7 502.0,1318.5 503.0,1319.3 504.0,1319.9 505.0,1318.4 506.0,1318.7 507.0,1318.7 508.0,1317.5 509.0,1319.2 510.0,1318.8 511.0,1317.9 512.0,1319.4 513.0,1320.7 514.0,1319.1 515.0,1317.8 516.0,1319.2 517.0,1318.8 518.0,1320.4 519.0,1317.4 520.0,1320.3 521.0,1319.2 522.0,1318.7 523.0,1316.7 524.0,1318.5 525.0,1319.3 526.0,1320.0 527.0,1318.9 528.0,1319.8 529.0,1319.2 530.0,1318.5 531.0,1317.4 532.0,1319.6 533.0,1317.3 534.0,1320.5 535.0,1316.7 536.0,1319.2 537.0,1318.9 538.0,1319.0 539.0,1318.4 540.0,1318.6 541.0,1318.9 542.0,1319.3 543.0,1319.1 544.0,1318.5 545.0,1319.1 546.0,1319.2 547.0,1320.0 548.0,1318.6 549.0,1318.1 550.0,1319.6 551.0,1317.6 552.0,1318.6 553.0,1318.5 554.0,1320.2 555.0,1318.0 556.0,1317.4 557.0,1316.7 558.0,1319.2 559.0,1318.6 560.0,1317.9 561.0,1318.1 562.0,1319.2 563.0,1318.5 564.0,1317.6 565.0,1318.0 566.0,1318.6 567.0,1317.6 568.0,1320.0 569.0,1318.2 570.0,1319.2 571.0,1318.9 572.0,1317.8 573.0,1316.9 574.0,1318.1 575.0,1318.5 576.0,1317.0 577.0,1317.8 578.0,1320.7 579.0,1319.2 580.0,1319.2 581.0,1319.2 582.0,1320.0 583.0,1318.0 584.0,1318.4 585.0,1316.9 586.0,1318.8 587.0,1318.5 588.0,1319.3 589.0,1317.6 590.0,1317.4 591.0,1317.0 592.0,1317.6 593.0,1319.1 594.0,1317.4 595.0,1319.4 596.0,1319.1 597.0,1318.7 598.0,1316.6 599.0,1319.2 600.0,1319.5 601.0,1318.3 602.0,1317.4 603.0,1318.0 604.0,1318.0 605.0,1319.4 606.0,1318.9 607.0,1317.3 608.0,1318.4 609.0,1319.2 610.0,1318.9 611.0,1317.3 612.0,1316.9 613.0,1318.2 614.0,1319.3 615.0,1317.0 616.0,1319.2 617.0,1318.4 618.0,1318.1 619.0,1318.5 620.0,1318.7 621.0,1317.0 622.0,1318.2 623.0,1319.9 624.0,1319.1 625.0,1317.3 626.0,1318.7 627.0,1319.5 628.0,1317.7 629.0,1318.1 630.0,1318.5 631.0,1318.0 632.0,1318.9 633.0,1318.4 634.0,1318.0 635.0,1319.1 636.0,1317.4 637.0,1319.5 638.0,1316.6 639.0,1318.5 640.0,1318.2 641.0,1319.7 642.0,1317.8 643.0,1319.3 644.0,1318.1 645.0,1318.5 646.0,1319.3 647.0,1316.9 648.0,1318.4 649.0,1319.0 650.0,1318.9 651.0,1318.2 652.0,1318.5 653.0,1317.7 654.0,1319.1 655.0,1318.3 656.0,1319.0 657.0,1319.2 658.0,1317.8 659.0,1319.3 660.0,1320.1 661.0,1317.9 662.0,1319.0 663.0,1318.0 664.0,1318.0 665.0,1318.0 666.0,1318.5 667.0,1317.1 668.0,1319.5 669.0,1317.4 670.0,1318.7 671.0,1318.2 672.0,1318.9 673.0,1317.7 674.0,1318.1 675.0,1318.9 676.0,1318.5 677.0,1318.1 678.0,1318.7 679.0,1316.2 680.0,1318.0 681.0,1318.9 682.0,1317.6 683.0,1318.3 684.0,1319.0 685.0,1318.8 686.0,1320.0 687.0,1317.8 688.0,1317.1 689.0,1318.6 690.0,1319.3 691.0,1320.1 692.0,1319.7 693.0,1318.5 694.0,1319.1 695.0,1318.7 696.0,1319.3 697.0,1318.7 698.0,1318.7 699.0,1318.3 700.0,1318.4 701.0,1318.3 702.0,1319.3 703.0,1318.8 704.0,1319.7 705.0,1319.0 706.0,1318.5 707.0,1318.1 708.0,1319.8 709.0,1319.4 710.0,1319.0 711.0,1319.6 712.0,1318.6 713.0,1318.4 714.0,1318.7 715.0,1316.2 716.0,1317.8 717.0,1316.8 718.0,1318.4 719.0,1315.7 720.0,1316.1 721.0,1316.3 722.0,1318.7 723.0,1317.1 724.0,1318.0 725.0,1317.4 726.0,1318.1 727.0,1318.7 728.0,1318.8 729.0,1317.3 730.0,1317.5 731.0,1320.1 732.0,1318.9 733.0,1317.9 734.0,1318.9 735.0,1318.2 736.0,1318.8 737.0,1317.0 738.0,1317.9 739.0,1318.7 740.0,1317.2 741.0,1317.9 742.0,1316.9 743.0,1319.0 744.0,1319.9 745.0,1317.8 746.0,1318.5 747.0,1320.2 748.0,1322.1 749.0,1318.4 750.0,1318.5 751.0,1319.3 752.0,1319.0 753.0,1318.4 754.0,1319.8 755.0,1317.4 756.0,1319.8 757.0,1318.5 758.0,1318.5 759.0,1319.0 760.0,1319.3 761.0,1317.7 762.0,1320.0 763.0,1318.5 764.0,1316.9 765.0,1318.8 766.0,1318.7 767.0,1316.3 768.0,1316.6 769.0,1312.6 770.0,1312.2 771.0,1312.7 772.0,1314.6 773.0,1315.3 774.0,1317.3 775.0,1319.1 776.0,1317.2 777.0,1319.4 778.0,1317.2 779.0,1319.0 780.0,1319.4 781.0,1319.0 782.0,1317.2 783.0,1318.4 784.0,1318.6 785.0,1320.1 786.0,1318.6 787.0,1318.9 788.0,1318.9 789.0,1319.3 790.0,1320.1 791.0,1317.4 792.0,1319.5 793.0,1318.0 794.0,1318.0 795.0,1318.4 796.0,1318.4 797.0,1318.0 798.0,1318.9 799.0,1318.6 800.0,1318.3 801.0,1318.4 802.0,1318.9 803.0,1321.1 804.0,1318.6 805.0,1319.7 806.0,1317.5 807.0,1317.4 808.0,1318.3 809.0,1318.3 810.0,1320.5 811.0,1318.7 812.0,1319.3 813.0,1316.8 814.0,1319.8 815.0,1316.4 816.0,1318.7 817.0,1320.5 818.0,1316.9 819.0,1318.8 820.0,1318.2 821.0,1317.5 822.0,1320.1 823.0,1319.0 824.0,1318.4 825.0,1317.4 826.0,1318.7 827.0,1318.0 828.0,1320.2 829.0,1318.1 830.0,1319.4 831.0,1318.9 832.0,1318.5 833.0,1317.7 834.0,1319.2 835.0,1318.1 836.0,1318.9 837.0,1318.0 838.0,1319.0 839.0,1317.2 840.0,1319.5 841.0,1319.5 842.0,1317.3 843.0,1319.2 844.0,1317.9 845.0,1317.9 846.0,1320.2 847.0,1318.8 848.0,1319.0 849.0,1318.7 850.0,1320.0 851.0,1318.4 852.0,1318.4 853.0,1319.6 854.0,1318.5 855.0,1318.4 856.0,1320.2 857.0,1318.6 858.0,1317.7 859.0,1317.9 860.0,1319.6 861.0,1319.3 862.0,1318.5 863.0,1318.2 864.0,1317.8 865.0,1318.5 866.0,1317.8 867.0,1319.2 868.0,1316.8 869.0,1318.7 870.0,1319.5 871.0,1319.1 872.0,1320.3 873.0,1319.3 874.0,1318.9 875.0,1318.1 876.0,1317.5 877.0,1319.4 878.0,1319.3 879.0,1317.9 880.0,1317.6 881.0,1317.9 882.0,1318.3 883.0,1319.7 884.0,1319.1 885.0,1320.1 886.0,1319.3 887.0,1317.4 888.0,1317.1 889.0,1318.9 890.0,1318.0 891.0,1317.3 892.0,1319.6 893.0,1319.9 894.0,1319.2 895.0,1320.6 896.0,1317.9 897.0,1318.7 898.0,1318.9 899.0,1318.6 900.0,1318.1 901.0,1318.6 902.0,1319.8 903.0,1318.0 904.0,1319.1 905.0,1318.3 906.0,1319.3 907.0,1318.6 908.0,1320.1 909.0,1318.5 910.0,1318.9 911.0,1317.6 912.0,1319.4 913.0,1319.5 914.0,1318.0 915.0,1320.5 916.0,1318.0 917.0,1318.7 918.0,1319.1 919.0,1318.5 920.0,1318.9 921.0,1319.5 922.0,1317.9 923.0,1319.5 924.0,1318.5 925.0,1318.8 926.0,1319.3 927.0,1319.2 928.0,1318.4 929.0,1319.0 930.0,1317.4 931.0,1317.8 932.0,1319.1 933.0,1317.7 934.0,1320.9 935.0,1317.0 936.0,1319.9 937.0,1319.9 938.0,1317.6 939.0,1320.2 940.0,1319.3 941.0,1318.3 942.0,1320.6 943.0,1318.8 944.0,1317.8 945.0,1319.3 946.0,1317.2 947.0,1319.5 948.0,1317.3 949.0,1318.2 950.0,1318.5 951.0,1318.9 952.0,1319.6 953.0,1317.6 954.0,1319.8 955.0,1318.6 956.0,1318.0 957.0,1318.2 958.0,1318.0 959.0,1319.2 960.0,1319.8 961.0,1318.4 962.0,1318.8 963.0,1317.6 964.0,1320.5 965.0,1318.6 966.0,1318.3 967.0,1319.1 968.0,1320.2 969.0,1318.6 970.0,1317.6 971.0,1319.3 972.0,1319.5 973.0,1319.6 974.0,1319.6 975.0,1320.3 976.0,1315.7 977.0,1318.8 978.0,1317.5 979.0,1317.5 980.0,1319.2 981.0,1318.1 982.0,1316.9 983.0,1317.3 984.0,1317.7 985.0,1319.3 986.0,1319.2 987.0,1318.6 988.0,1317.1 989.0,1319.3 990.0,1318.0 991.0,1317.5 992.0,1317.8 993.0,1318.6 994.0,1319.2 995.0,1317.9 996.0,1318.9 997.0,1318.2 998.0,1319.1 999.0,1319.1 1000.0,1319.0 1001.0,1319.5 1002.0,1317.7 1003.0,1319.9 1004.0,1318.2 1005.0,1319.0 1006.0,1318.1 1007.0,1320.2 1008.0,1318.6 1009.0,1318.5 1010.0,1317.2 1011.0,1317.6 1012.0,1318.2 1013.0,1318.6 1014.0,1318.5 1015.0,1317.6 1016.0,1317.3 1017.0,1318.0 1018.0,1317.4 1019.0,1320.0 1020.0,1317.7 1021.0,1316.7 1022.0,1318.4 1023.0,1319.1 1024.0,1317.2 1025.0,1320.3 1026.0,1317.4 1027.0,1319.7 1028.0,1318.1 1029.0,1319.6 1030.0,1317.1 1031.0,1318.5 1032.0,1319.1 1033.0,1318.6 1034.0,1317.2 1035.0,1317.1 1036.0,1318.3 1037.0,1318.7 1038.0,1317.1 1039.0,1318.4 1040.0,1319.0 1041.0,1316.7 1042.0,1320.0 1043.0,1318.2 1044.0,1317.0 1045.0,1318.1 1046.0,1318.2 1047.0,1317.6 1048.0,1319.4 1049.0,1318.5 1050.0,1318.5 1051.0,1317.5 1052.0,1318.0 1053.0,1318.4 1054.0,1317.3 1055.0,1317.2 1056.0,1319.6 1057.0,1316.0 1058.0,1318.1 1059.0,1318.9 1060.0,1316.8 1061.0,1320.7 1062.0,1319.6 1063.0,1318.1 1064.0,1319.0 1065.0,1319.5 1066.0,1318.7 1067.0,1317.0 1068.0,1318.3 1069.0,1317.6 1070.0,1317.7 1071.0,1318.4 1072.0,1318.3 1073.0,1319.0 1074.0,1318.2 1075.0,1317.6 1076.0,1318.5 1077.0,1318.4 1078.0,1317.9 1079.0,1318.3 1080.0,1318.1 1081.0,1320.1 1082.0,1318.0 1083.0,1319.9 1084.0,1317.8 1085.0,1318.5 1086.0,1318.8 1087.0,1319.5 1088.0,1317.5 1089.0,1318.7 1090.0,1318.8 1091.0,1320.1 1092.0,1316.9 1093.0,1318.8 1094.0,1319.1 1095.0,1317.2 1096.0,1317.8 1097.0,1320.6 1098.0,1318.4 1099.0,1316.9 1100.0,1318.6 1101.0,1319.0 1102.0,1317.5 1103.0,1317.6 1104.0,1319.1 1105.0,1318.9 1106.0,1318.8 1107.0,1318.8 1108.0,1319.5 1109.0,1318.9 1110.0,1317.7 1111.0,1319.7 1112.0,1317.3 1113.0,1317.8 1114.0,1317.6 1115.0,1317.5 1116.0,1319.0 1117.0,1319.7 1118.0,1317.2 1119.0,1318.3 1120.0,1317.8 1121.0,1317.3 1122.0,1319.4 1123.0,1318.2 1124.0,1318.2 1125.0,1319.1 1126.0,1319.0 1127.0,1318.1 1128.0,1317.8 1129.0,1316.9 1130.0,1317.3 1131.0,1316.7 1132.0,1318.5 1133.0,1317.8 1134.0,1318.1 1135.0,1318.3 1136.0,1318.5 1137.0,1316.7 1138.0,1316.5 1139.0,1317.8 1140.0,1320.3 1141.0,1318.9 1142.0,1318.5 1143.0,1316.1 1144.0,1316.6 1145.0,1317.8 1146.0,1316.8 1147.0,1317.1 1148.0,1317.5 1149.0,1317.4 1150.0,1318.0 1151.0,1318.0 1152.0,1317.1 1153.0,1317.8 1154.0,1316.3 1155.0,1316.7 1156.0,1317.0 1157.0,1315.6 1158.0,1316.3 1159.0,1315.5 1160.0,1315.6 1161.0,1313.5 1162.0,1313.2 1163.0,1312.5 1164.0,1311.3 1165.0,1308.9 1166.0,1307.3 1167.0,1304.9 1168.0,1295.7 1169.0,1285.8 1170.0,1262.1 1171.0,1211.0 1172.0,997.9 1173.0,1113.6 1174.0,1151.8 1175.0,1199.7 1176.0,1220.2 1177.0,1213.7 1178.0,1208.0 1179.0,1228.2 1180.0,1262.9 1181.0,1285.8 1182.0,1298.6 1183.0,1303.8 1184.0,1306.6 1185.0,1309.9 1186.0,1311.3 1187.0,1313.1 1188.0,1312.5 1189.0,1314.2 1190.0,1314.6 1191.0,1316.4 1192.0,1314.7 1193.0,1315.5 1194.0,1316.8 1195.0,1317.2 1196.0,1316.3 1197.0,1318.1 1198.0,1316.9 1199.0,1317.9 1200.0,1318.2 1201.0,1316.4 1202.0,1318.4 1203.0,1319.2 1204.0,1316.2 1205.0,1318.2 1206.0,1316.7 1207.0,1317.8 1208.0,1318.7 1209.0,1319.3 1210.0,1318.1 1211.0,1317.7 1212.0,1318.6 1213.0,1318.3 1214.0,1318.8 1215.0,1318.2 1216.0,1317.9 1217.0,1318.3 1218.0,1320.0 1219.0,1318.9 1220.0,1318.5 1221.0,1318.6 1222.0,1319.9 1223.0,1318.8 1224.0,1319.7 1225.0,1319.8 1226.0,1317.9 1227.0,1319.1 1228.0,1317.3 1229.0,1317.3 1230.0,1320.1 1231.0,1318.1 1232.0,1319.8 1233.0,1317.8 1234.0,1317.4 1235.0,1317.1 1236.0,1317.2 1237.0,1319.7 1238.0,1318.2 1239.0,1319.8 1240.0,1318.0 1241.0,1317.6 1242.0,1318.5 1243.0,1317.6 1244.0,1319.2 1245.0,1318.9 1246.0,1319.5 1247.0,1320.1 1248.0,1318.3 1249.0,1318.4 1250.0,1319.4 1251.0,1319.2 1252.0,1319.9 1253.0,1317.8 1254.0,1317.9 1255.0,1318.9 1256.0,1318.8 1257.0,1318.9 1258.0,1319.3 1259.0,1318.1 1260.0,1317.6 1261.0,1320.4 1262.0,1317.7 1263.0,1319.3 1264.0,1318.8 1265.0,1319.8 1266.0,1319.0 1267.0,1318.6 1268.0,1318.8 1269.0,1316.1 1270.0,1318.9 1271.0,1318.7 1272.0,1318.8 1273.0,1318.1 1274.0,1317.8 1275.0,1317.8 1276.0,1318.5 1277.0,1318.3 1278.0,1320.7 1279.0,1318.4 1280.0,1319.4 1281.0,1318.3 1282.0,1319.0 1283.0,1318.0 1284.0,1318.8 1285.0,1317.9 1286.0,1320.4 1287.0,1317.6 1288.0,1319.8 1289.0,1317.0 1290.0,1319.9 1291.0,1318.5 1292.0,1319.4 1293.0,1318.4 1294.0,1317.5 1295.0,1319.3 1296.0,1318.2 1297.0,1317.7 1298.0,1319.5 1299.0,1317.7 1300.0,1319.0 1301.0,1318.0 1302.0,1319.5 1303.0,1315.7 1304.0,1318.6 1305.0,1320.4 1306.0,1318.1 1307.0,1318.8 1308.0,1320.0 1309.0,1318.8 1310.0,1319.7 1311.0,1318.4 1312.0,1319.4 1313.0,1319.5 1314.0,1318.4 1315.0,1318.2 1316.0,1318.5 1317.0,1318.3 1318.0,1318.6 1319.0,1318.3 1320.0,1317.4 1321.0,1317.7 1322.0,1318.0 1323.0,1317.1 1324.0,1320.1 1325.0,1317.6 1326.0,1320.3 1327.0,1319.2 1328.0,1319.4 1329.0,1318.1 1330.0,1317.2 1331.0,1319.1 1332.0,1320.2 1333.0,1317.7 1334.0,1318.7 1335.0,1319.9 1336.0,1316.5 1337.0,1318.2 1338.0,1318.4 1339.0,1318.4 1340.0,1318.8 1341.0,1318.0 1342.0,1318.4 1343.0,1317.4 1344.0,1319.9 1345.0,1318.5 1346.0,1317.5 1347.0,1319.6 1348.0,1317.8 1349.0,1319.3 1350.0,1317.6 1351.0,1317.3 1352.0,1317.9 1353.0,1318.5 1354.0,1319.2 1355.0,1319.1 1356.0,1318.3 1357.0,1318.5 1358.0,1319.4 1359.0,1318.4 1360.0,1319.6 1361.0,1317.3 1362.0,1317.7 1363.0,1318.5 1364.0,1317.5 1365.0,1318.7 1366.0,1317.2 1367.0,1318.4 1368.0,1319.7 1369.0,1320.3 1370.0,1316.7 1371.0,1320.0 1372.0,1318.6 1373.0,1317.7 1374.0,1318.8 1375.0,1319.3 1376.0,1318.7 1377.0,1318.3 1378.0,1318.3 1379.0,1318.0 1380.0,1319.5 1381.0,1317.4 1382.0,1318.2 1383.0,1317.7 1384.0,1317.6 1385.0,1318.0 1386.0,1319.6 1387.0,1319.1 1388.0,1319.2 1389.0,1319.4 1390.0,1319.0 1391.0,1320.1 1392.0,1318.4 1393.0,1318.5 1394.0,1317.5 1395.0,1318.9 1396.0,1316.8 1397.0,1318.5 1398.0,1318.7 1399.0,1318.4 1400.0,1317.1 1401.0,1317.5 1402.0,1318.1 1403.0,1318.4 1404.0,1318.9 1405.0,1319.7 1406.0,1318.6 1407.0,1318.8 1408.0,1316.9 1409.0,1318.9 1410.0,1317.2 1411.0,1318.3 1412.0,1318.8 1413.0,1317.8 1414.0,1320.5 1415.0,1320.2 1416.0,1316.7 1417.0,1318.1 1418.0,1318.1 1419.0,1318.6 1420.0,1318.3 1421.0,1318.5 1422.0,1318.5 1423.0,1318.2 1424.0,1318.2 1425.0,1317.9 1426.0,1319.4 1427.0,1318.8 1428.0,1316.8 1429.0,1318.7 1430.0,1318.1 1431.0,1318.2 1432.0,1318.7 1433.0,1316.7 1434.0,1317.8 1435.0,1320.1 1436.0,1317.4 1437.0,1319.5 1438.0,1320.1 1439.0,1319.0 1440.0,1317.6 1441.0,1319.9 1442.0,1317.5 1443.0,1319.2 1444.0,1317.2 1445.0,1317.7 1446.0,1319.1 1447.0,1320.6 1448.0,1318.4 1449.0,1320.4 1450.0,1317.6 1451.0,1318.8 1452.0,1317.2 1453.0,1318.9 1454.0,1319.3 1455.0,1317.9 1456.0,1319.3 1457.0,1318.3 1458.0,1318.4 1459.0,1319.0 1460.0,1319.6 1461.0,1317.7 1462.0,1316.8 1463.0,1318.6 1464.0,1319.1 1465.0,1318.6 1466.0,1319.4 1467.0,1320.1 1468.0,1317.3 1469.0,1318.1 1470.0,1318.6 1471.0,1316.6 1472.0,1318.3 1473.0,1318.3 1474.0,1317.4 1475.0,1318.8 1476.0,1317.9 1477.0,1317.9 1478.0,1317.5 1479.0,1317.9 1480.0,1316.9 1481.0,1317.4 1482.0,1317.5 1483.0,1317.4 1484.0,1318.7 1485.0,1319.0 1486.0,1318.4 1487.0,1317.1 1488.0,1319.3 1489.0,1317.7 1490.0,1318.5 1491.0,1317.8 1492.0,1317.5 1493.0,1317.4 1494.0,1313.1 1495.0,1313.3 1496.0,1312.0 1497.0,1311.6 1498.0,1314.6 1499.0,1311.8 1500.0,1312.8 1501.0,1315.7 1502.0,1316.3 1503.0,1316.6 1504.0,1317.0 1505.0,1316.9 1506.0,1317.2 1507.0,1318.0 1508.0,1317.3 1509.0,1318.9 1510.0,1317.8 1511.0,1316.7 1512.0,1316.4 1513.0,1317.2 1514.0,1316.9 1515.0,1318.1 1516.0,1316.8 1517.0,1317.7 1518.0,1318.4 1519.0,1316.3 1520.0,1317.4 1521.0,1317.2 1522.0,1318.5 1523.0,1317.3 1524.0,1317.0 1525.0,1316.7 1526.0,1316.7 1527.0,1316.7 1528.0,1316.3 1529.0,1315.9 1530.0,1316.0 1531.0,1317.7 1532.0,1316.7 1533.0,1315.6 1534.0,1315.8 1535.0,1316.9 1536.0,1316.6 1537.0,1316.5 1538.0,1316.2 1539.0,1318.1 1540.0,1318.1 1541.0,1316.6 1542.0,1317.3 1543.0,1316.7 1544.0,1316.6 1545.0,1315.4 1546.0,1315.5 1547.0,1313.9 1548.0,1314.9 1549.0,1314.9 1550.0,1314.6 1551.0,1314.4 1552.0,1314.9 1553.0,1314.8 1554.0,1312.1 1555.0,1313.6 1556.0,1313.3 1557.0,1313.2 1558.0,1312.1 1559.0,1312.2 1560.0,1311.0 1561.0,1311.1 1562.0,1310.0 1563.0,1305.7 1564.0,1306.2 1565.0,1304.7 1566.0,1302.2 1567.0,1301.0 1568.0,1298.7 1569.0,1296.6 1570.0,1291.8 1571.0,1289.0 1572.0,1282.8 1573.0,1275.5 1574.0,1263.8 1575.0,1250.7 1576.0,1229.1 1577.0,1191.9 1578.0,1123.5 1579.0,990.9 1580.0,758.0 1581.0,446.3 1582.0,260.1 1583.0,420.9 1584.0,698.8 1585.0,869.5 1586.0,896.9 1587.0,814.7 1588.0,733.7 1589.0,810.7 1590.0,974.0 1591.0,1109.2 1592.0,1188.5 1593.0,1232.3 1594.0,1255.0 1595.0,1269.5 1596.0,1278.9 1597.0,1285.2 1598.0,1291.2 1599.0,1295.0 1600.0,1298.5 1601.0,1301.0 1602.0,1303.2 1603.0,1305.5 1604.0,1306.1 1605.0,1306.7 1606.0,1308.2 1607.0,1309.8 1608.0,1311.0 1609.0,1308.8 1610.0,1310.2 1611.0,1312.9 1612.0,1313.5 1613.0,1314.2 1614.0,1312.3 1615.0,1315.1 1616.0,1313.8 1617.0,1315.1 1618.0,1314.4 1619.0,1315.6 1620.0,1315.1 1621.0,1315.2 1622.0,1314.5 1623.0,1314.2 1624.0,1315.2 1625.0,1315.5 1626.0,1314.4 1627.0,1317.4 1628.0,1314.5 1629.0,1316.5 1630.0,1316.7 1631.0,1315.2 1632.0,1316.9 1633.0,1316.7 1634.0,1316.0 1635.0,1315.7 1636.0,1317.9 1637.0,1316.3 1638.0,1316.6 1639.0,1317.2 1640.0,1315.6 1641.0,1314.9 1642.0,1316.5 1643.0,1316.6 1644.0,1318.0 1645.0,1317.6 1646.0,1317.8 1647.0,1317.0 1648.0,1317.2 1649.0,1318.1 1650.0,1317.7 1651.0,1318.6 1652.0,1318.0 1653.0,1317.6 1654.0,1317.5 1655.0,1317.8 1656.0,1317.6 1657.0,1317.8 1658.0,1318.5 1659.0,1317.1 1660.0,1318.4 1661.0,1318.3 1662.0,1316.9 1663.0,1317.9 1664.0,1317.6 1665.0,1316.4 1666.0,1318.6 1667.0,1319.0 1668.0,1316.0 1669.0,1318.5 1670.0,1318.7 1671.0,1316.1 1672.0,1317.7 1673.0,1318.2 1674.0,1319.9 1675.0,1318.2 1676.0,1318.7 1677.0,1317.6 1678.0,1319.9 1679.0,1317.9 1680.0,1316.7 1681.0,1318.0 1682.0,1318.7 1683.0,1320.4 1684.0,1318.6 1685.0,1318.7 1686.0,1319.1 1687.0,1319.4 1688.0,1317.0 1689.0,1317.0 1690.0,1319.2 1691.0,1318.9 1692.0,1319.0 1693.0,1319.3 1694.0,1317.9 1695.0,1317.8 1696.0,1317.4 1697.0,1318.2 1698.0,1318.0 1699.0,1317.0 1700.0,1317.8 1701.0,1318.0 1702.0,1319.9 1703.0,1318.5 1704.0,1318.6 1705.0,1318.2 1706.0,1317.2 1707.0,1318.8 1708.0,1316.9 1709.0,1319.1 1710.0,1316.8 1711.0,1319.3 1712.0,1318.3 1713.0,1320.2 1714.0,1319.5 1715.0,1320.6 1716.0,1317.8 1717.0,1318.6 1718.0,1320.6 1719.0,1318.0 1720.0,1318.9 1721.0,1319.5 1722.0,1318.7 1723.0,1318.2 1724.0,1318.5 1725.0,1318.3 1726.0,1317.8 1727.0,1317.5 1728.0,1319.6 1729.0,1317.9 1730.0,1319.7 1731.0,1319.3 1732.0,1319.9 1733.0,1319.1 1734.0,1317.4 1735.0,1318.1 1736.0,1316.9 1737.0,1319.0 1738.0,1317.1 1739.0,1320.6 1740.0,1317.8 1741.0,1317.5 1742.0,1317.8 1743.0,1319.0 1744.0,1319.0 1745.0,1318.5 1746.0,1316.5 1747.0,1317.5 1748.0,1318.6 1749.0,1320.1 1750.0,1317.5 1751.0,1319.2 1752.0,1317.5 1753.0,1319.8 1754.0,1319.5 1755.0,1318.2 1756.0,1318.1 1757.0,1317.5 1758.0,1318.3 1759.0,1318.6 1760.0,1317.8 1761.0,1318.7 1762.0,1319.2 1763.0,1318.5 1764.0,1317.2 1765.0,1318.2 1766.0,1318.0 1767.0,1317.6 1768.0,1317.9 1769.0,1319.4 1770.0,1318.7 1771.0,1318.0 1772.0,1316.7 1773.0,1318.3 1774.0,1319.3 1775.0,1318.4 1776.0,1318.4 1777.0,1319.6 1778.0,1318.1 1779.0,1316.1 1780.0,1319.2 1781.0,1318.0 1782.0,1317.5 1783.0,1318.6 1784.0,1320.2 1785.0,1318.1 1786.0,1318.9 1787.0,1319.1 1788.0,1318.2 1789.0,1318.4 1790.0,1317.5 1791.0,1317.2 1792.0,1319.3 1793.0,1317.7 1794.0,1318.5 1795.0,1318.2 1796.0,1317.1 1797.0,1318.6 1798.0,1319.0 1799.0,1319.7 1800.0,1316.8 1801.0,1317.9 1802.0,1318.0 1803.0,1319.0 1804.0,1317.0 1805.0,1320.4 1806.0,1317.5 1807.0,1316.6 1808.0,1317.0 1809.0,1318.1 1810.0,1318.0 1811.0,1318.6 1812.0,1318.7 1813.0,1318.4 1814.0,1318.8 1815.0,1318.6 1816.0,1319.1 1817.0,1318.5 1818.0,1318.0 1819.0,1317.2 1820.0,1318.5 1821.0,1318.0 1822.0,1318.7 1823.0,1317.6 1824.0,1319.1 1825.0,1319.6 1826.0,1319.8 1827.0,1319.2 1828.0,1318.7 1829.0,1317.1 1830.0,1318.1 1831.0,1318.3 1832.0,1319.8 1833.0,1319.1 1834.0,1319.0 1835.0,1315.8 1836.0,1317.2 1837.0,1317.4 1838.0,1319.7 1839.0,1318.9 1840.0,1318.8 1841.0,1318.4 1842.0,1319.9 1843.0,1318.0 1844.0,1318.6 1845.0,1320.3 1846.0,1318.9 1847.0,1317.4 1848.0,1317.8 1849.0,1317.8 1850.0,1320.0 1851.0,1317.7 1852.0,1318.3 1853.0,1318.3 1854.0,1319.7 1855.0,1319.7 1856.0,1317.2 1857.0,1317.9 1858.0,1317.4 1859.0,1317.0 1860.0,1318.9 1861.0,1319.0 1862.0,1319.8 1863.0,1317.3 1864.0,1318.3 1865.0,1318.6 1866.0,1318.9 1867.0,1318.3 1868.0,1316.2 1869.0,1319.0 1870.0,1320.1 1871.0,1317.6 1872.0,1318.5 1873.0,1316.7 1874.0,1318.2 1875.0,1317.8 1876.0,1320.1 1877.0,1318.8 1878.0,1319.0 1879.0,1318.4 1880.0,1318.0 1881.0,1318.4 1882.0,1318.8 1883.0,1317.2 1884.0,1317.7 1885.0,1316.6 1886.0,1319.0 1887.0,1319.2 1888.0,1320.2 1889.0,1319.3 1890.0,1318.6 1891.0,1317.1 1892.0,1319.6 1893.0,1319.9 1894.0,1318.7 1895.0,1318.8 1896.0,1318.1 1897.0,1319.0 1898.0,1318.9 1899.0,1318.8 1900.0,1318.1 1901.0,1320.2 1902.0,1318.0 1903.0,1319.9 1904.0,1317.5 1905.0,1319.1 1906.0,1318.0 1907.0,1319.1 1908.0,1318.0 1909.0,1318.0 1910.0,1319.8 1911.0,1317.5 1912.0,1318.4 1913.0,1319.3 1914.0,1318.2 1915.0,1320.5 1916.0,1319.6 1917.0,1317.6 1918.0,1318.7 1919.0,1317.6 1920.0,1318.2 1921.0,1317.7 1922.0,1317.6 1923.0,1318.0 1924.0,1318.3 1925.0,1319.0 1926.0,1318.0 1927.0,1316.5 1928.0,1318.9 1929.0,1317.9 1930.0,1318.3 1931.0,1318.2 1932.0,1317.4 1933.0,1319.5 1934.0,1316.5 1935.0,1318.9 1936.0,1320.1 1937.0,1320.1 1938.0,1318.4 1939.0,1316.9 1940.0,1318.2 1941.0,1318.9 1942.0,1316.1 1943.0,1319.6 1944.0,1318.3 1945.0,1317.8 1946.0,1317.9 1947.0,1318.0 1948.0,1319.3 1949.0,1316.9 1950.0,1318.2 1951.0,1317.7 1952.0,1319.1 1953.0,1319.9 1954.0,1316.6 1955.0,1318.3 1956.0,1318.7 1957.0,1319.0 1958.0,1318.6 1959.0,1318.2 1960.0,1318.3 1961.0,1318.2 1962.0,1318.2 1963.0,1319.4 1964.0,1317.9 1965.0,1317.6 1966.0,1318.8 1967.0,1318.5 1968.0,1318.0 1969.0,1319.3 1970.0,1318.0 1971.0,1318.5 1972.0,1317.4 1973.0,1315.8 1974.0,1318.1 1975.0,1318.9 1976.0,1317.5 1977.0,1317.8 1978.0,1318.1 1979.0,1318.0 1980.0,1317.8 1981.0,1316.9 1982.0,1317.7 1983.0,1317.1 1984.0,1316.6 1985.0,1315.8 1986.0,1316.4 1987.0,1315.8 1988.0,1314.9 1989.0,1316.6 1990.0,1314.7 1991.0,1314.8 1992.0,1316.3 1993.0,1315.3 1994.0,1313.3 1995.0,1315.5 1996.0,1313.2 1997.0,1309.2 1998.0,1308.1 1999.0,1304.1 2000.0,1298.5 2001.0,1290.5 2002.0,1271.5 2003.0,1237.8 2004.0,1202.4 2005.0,1179.8 2006.0,1197.8 2007.0,1234.6 2008.0,1259.3 2009.0,1267.9 2010.0,1262.8 2011.0,1249.7 2012.0,1241.3 2013.0,1254.0 2014.0,1274.4 2015.0,1290.5 2016.0,1301.4 2017.0,1307.5 2018.0,1309.3 2019.0,1312.5 2020.0,1311.8 2021.0,1315.3 2022.0,1314.8 2023.0,1314.0 2024.0,1315.9 2025.0,1316.6 2026.0,1314.4 2027.0,1316.1 2028.0,1316.2 2029.0,1316.9 2030.0,1315.9 2031.0,1315.9 2032.0,1318.0 2033.0,1318.4 2034.0,1320.0 2035.0,1317.6 2036.0,1317.2 2037.0,1316.0 2038.0,1318.0 2039.0,1317.1 2040.0,1318.3 2041.0,1318.9 2042.0,1319.3 2043.0,1318.7 2044.0,1317.2 2045.0,1317.8 2046.0,1319.6 2047.0,1317.1 2048.0,1318.0 2049.0,1319.2 2050.0,1319.5 2051.0,1317.2 2052.0,1318.2 2053.0,1318.5 2054.0,1317.6 2055.0,1320.0 2056.0,1318.6 2057.0,1316.9 2058.0,1319.0 2059.0,1318.2 2060.0,1317.2 2061.0,1317.9 2062.0,1318.5 2063.0,1319.3 2064.0,1318.7 2065.0,1318.8 2066.0,1317.6 2067.0,1319.8 2068.0,1318.8 2069.0,1318.4 2070.0,1317.4 2071.0,1318.4 2072.0,1318.4 2073.0,1318.2 2074.0,1319.3 2075.0,1316.4 2076.0,1319.9 2077.0,1318.6 2078.0,1319.2 2079.0,1318.1 2080.0,1317.8 2081.0,1317.4 2082.0,1318.9 2083.0,1319.5 2084.0,1319.7 2085.0,1318.2 2086.0,1317.8 2087.0,1316.3 2088.0,1318.1 2089.0,1318.9 2090.0,1317.5 2091.0,1319.6 2092.0,1316.9 2093.0,1318.1 2094.0,1318.2 2095.0,1319.2 2096.0,1318.1 2097.0,1317.5 2098.0,1318.0 2099.0,1318.4 2100.0,1318.8 2101.0,1319.4 2102.0,1320.2 2103.0,1317.3 2104.0,1318.3 2105.0,1319.3 2106.0,1318.3 2107.0,1318.4 2108.0,1319.1 2109.0,1319.6 2110.0,1317.3 2111.0,1318.6 2112.0,1319.8 2113.0,1319.6 2114.0,1319.6 2115.0,1318.6 2116.0,1319.2 2117.0,1317.7 2118.0,1318.8 2119.0,1319.6 2120.0,1318.6 2121.0,1319.5 2122.0,1319.3 2123.0,1319.2 2124.0,1320.1 2125.0,1319.2 2126.0,1318.4 2127.0,1318.4 2128.0,1318.4 2129.0,1317.9 2130.0,1317.8 2131.0,1317.6 2132.0,1319.6 2133.0,1318.3 2134.0,1318.5 2135.0,1319.0 2136.0,1317.1 2137.0,1319.3 2138.0,1318.6 2139.0,1317.0 2140.0,1318.5 2141.0,1318.6 2142.0,1319.4 2143.0,1317.3 2144.0,1318.9 2145.0,1318.1 2146.0,1318.7 2147.0,1317.8 2148.0,1318.8 2149.0,1319.7 2150.0,1320.1 2151.0,1316.4 2152.0,1319.2 2153.0,1317.6 2154.0,1316.3 2155.0,1320.1 2156.0,1319.4 2157.0,1318.1 2158.0,1319.4 2159.0,1319.3 2160.0,1319.7 2161.0,1318.9 2162.0,1318.4 2163.0,1318.0 2164.0,1319.2 2165.0,1318.8 2166.0,1318.8 2167.0,1318.5 2168.0,1318.9 2169.0,1318.1 2170.0,1320.6 2171.0,1318.4 2172.0,1318.3 2173.0,1318.0 2174.0,1319.0 2175.0,1317.9 2176.0,1318.2 2177.0,1318.4 2178.0,1319.4 2179.0,1320.3 2180.0,1317.0 2181.0,1318.5 2182.0,1318.1 2183.0,1320.1 2184.0,1318.6 2185.0,1319.0 2186.0,1319.1 2187.0,1316.8 2188.0,1320.2 2189.0,1318.8 2190.0,1318.6 2191.0,1316.7 2192.0,1318.1 2193.0,1318.9 2194.0,1318.9 2195.0,1322.0 2196.0,1317.9 2197.0,1318.4 2198.0,1317.4 2199.0,1319.4 2200.0,1318.9 2201.0,1318.1 2202.0,1318.3 2203.0,1318.7 2204.0,1318.3 2205.0,1318.6 2206.0,1319.1 2207.0,1317.6 2208.0,1320.1 2209.0,1319.5 2210.0,1320.5 2211.0,1317.4 2212.0,1319.0 2213.0,1317.8 2214.0,1317.7 2215.0,1318.6 2216.0,1318.9 2217.0,1318.6 2218.0,1318.2 2219.0,1319.7 2220.0,1317.7 2221.0,1319.7 2222.0,1318.8 2223.0,1318.4 2224.0,1319.2 2225.0,1317.7 2226.0,1319.4 2227.0,1317.9 2228.0,1318.5 2229.0,1317.9 2230.0,1317.1 2231.0,1319.4 2232.0,1319.8 2233.0,1317.3 2234.0,1317.4 2235.0,1317.9 2236.0,1318.7 2237.0,1317.8 2238.0,1319.8 2239.0,1318.6 2240.0,1318.8 2241.0,1317.9 2242.0,1320.0 2243.0,1317.5 2244.0,1316.8 2245.0,1319.5 2246.0,1318.9 2247.0,1321.0 2248.0,1316.7 2249.0,1318.1 2250.0,1318.8 2251.0,1318.4 2252.0,1318.1 2253.0,1316.8 2254.0,1318.8 2255.0,1318.9 2256.0,1319.5 2257.0,1316.6 2258.0,1316.2 2259.0,1318.7 2260.0,1316.9 2261.0,1320.0 2262.0,1317.8 2263.0,1319.3" fill="none" stroke="#f00" stroke-width="3" stroke-linejoin="round"/>
<polyline points="232.0,1315.8 233.0,1312.1 234.0,1310.7 235.0,1314.2 236.0,1316.1 237.0,1313.1 238.0,1311.9 239.0,1310.4 240.0,1315.8 241.0,1316.0 242.0,1311.4 243.0,1311.9 244.0,1309.4 245.0,1310.7 246.0,1313.2 247.0,1313.6 248.0,1307.0 249.0,1313.7 250.0,1314.8 251.0,1315.6 252.0,1312.8 253.0,1312.7 254.0,1313.8 255.0,1313.1 256.0,1312.4 257.0,1311.4 258.0,1310.4 259.0,1312.5 260.0,1317.2 261.0,1311.4 262.0,1316.3 263.0,1313.4 264.0,1316.4 265.0,1313.0 266.0,1314.8 267.0,1312.5 268.0,1305.3 269.0,1313.1 270.0,1311.0 271.0,1316.1 272.0,1313.7 273.0,1311.5 274.0,1313.2 275.0,1312.1 276.0,1312.8 277.0,1315.3 278.0,1311.7 279.0,1314.9 280.0,1308.6 281.0,1314.2 282.0,1311.4 283.0,1313.0 284.0,1310.8 285.0,1314.4 286.0,1310.7 287.0,1313.3 288.0,1310.1 289.0,1311.5 290.0,1312.7 291.0,1314.8 292.0,1311.2 293.0,1311.9 294.0,1309.2 295.0,1313.9 296.0,1311.7 297.0,1311.8 298.0,1312.3 299.0,1312.5 300.0,1312.6 301.0,1314.4 302.0,1315.4 303.0,1313.9 304.0,1311.6 305.0,1309.5 306.0,1310.7 307.0,1310.5 308.0,1311.2 309.0,1311.4 310.0,1312.6 311.0,1311.2 312.0,1308.9 313.0,1313.8 314.0,1314.6 315.0,1308.4 316.0,1312.4 317.0,1310.7 318.0,1310.9 319.0,1315.6 320.0,1307.3 321.0,1308.8 322.0,1312.5 323.0,1311.1 324.0,1312.5 325.0,1314.8 326.0,1312.9 327.0,1311.7 328.0,1309.8 329.0,1310.6 330.0,1312.0 331.0,1308.8 332.0,1313.5 333.0,1309.6 334.0,1308.6 335.0,1311.6 336.0,1314.8 337.0,1312.4 338.0,1309.4 339.0,1308.5 340.0,1305.8 341.0,1311.5 342.0,1309.0 343.0,1307.4 344.0,1309.2 345.0,1314.3 346.0,1306.9 347.0,1303.5 348.0,1306.7 349.0,1311.1 350.0,1309.7 351.0,1307.4 352.0,1304.2 353.0,1308.6 354.0,1308.4 355.0,1307.3 356.0,1311.4 357.0,1307.1 358.0,1311.4 359.0,1307.8 360.0,1307.8 361.0,1306.1 362.0,1303.8 363.0,1303.8 364.0,1303.3 365.0,1299.8 366.0,1293.0 367.0,1288.6 368.0,1283.0 369.0,1270.8 370.0,1255.0 371.0,1229.7 372.0,1186.8 373.0,1120.7 374.0,996.0 375.0,811.9 376.0,674.4 377.0,622.2 378.0,580.9 379.0,642.6 380.0,825.8 381.0,973.4 382.0,1071.9 383.0,1173.4 384.0,1244.5 385.0,1264.0 386.0,1284.1 387.0,1290.1 388.0,1301.3 389.0,1301.5 390.0,1303.0 391.0,1303.2 392.0,1307.6 393.0,1307.9 394.0,1308.2 395.0,1311.8 396.0,1312.6 397.0,1315.3 398.0,1313.3 399.0,1316.1 400.0,1317.1 401.0,1311.4 402.0,1309.6 403.0,1311.0 404.0,1309.9 405.0,1312.4 406.0,1314.7 407.0,1312.8 408.0,1313.9 409.0,1315.6 410.0,1316.9 411.0,1316.4 412.0,1313.0 413.0,1312.6 414.0,1314.1 415.0,1309.7 416.0,1312.6 417.0,1311.6 418.0,1310.2 419.0,1314.9 420.0,1317.6 421.0,1311.2 422.0,1314.6 423.0,1309.9 424.0,1312.2 425.0,1310.6 426.0,1311.2 427.0,1317.8 428.0,1311.3 429.0,1314.6 430.0,1314.8 431.0,1314.0 432.0,1311.2 433.0,1310.9 434.0,1310.6 435.0,1316.9 436.0,1314.4 437.0,1318.5 438.0,1313.2 439.0,1311.6 440.0,1314.8 441.0,1312.4 442.0,1312.5 443.0,1310.6 444.0,1314.9 445.0,1314.9 446.0,1314.8 447.0,1308.9 448.0,1310.5 449.0,1313.3 450.0,1312.5 451.0,1312.7 452.0,1312.5 453.0,1313.5 454.0,1313.8 455.0,1315.9 456.0,1314.5 457.0,1309.1 458.0,1311.7 459.0,1312.8 460.0,1313.5 461.0,1312.8 462.0,1312.2 463.0,1314.5 464.0,1312.5 465.0,1312.4 466.0,1314.7 467.0,1314.8 468.0,1315.3 469.0,1315.5 470.0,1310.9 471.0,1318.5 472.0,1313.6 473.0,1314.4 474.0,1314.4 475.0,1312.8 476.0,1310.4 477.0,1312.8 478.0,1313.3 479.0,1314.4 480.0,1313.3 481.0,1310.9 482.0,1313.9 483.0,1315.7 484.0,1315.9 485.0,1315.6 486.0,1316.2 487.0,1310.4 488.0,1312.2 489.0,1313.5 490.0,1309.6 491.0,1314.5 492.0,1311.2 493.0,1311.1 494.0,1316.6 495.0,1316.6 496.0,1315.2 497.0,1310.9 498.0,1310.0 499.0,1315.9 500.0,1310.5 501.0,1313.9 502.0,1313.9 503.0,1314.3 504.0,1313.7 505.0,1317.2 506.0,1315.3 507.0,1315.9 508.0,1311.8 509.0,1308.1 510.0,1306.6 511.0,1313.8 512.0,1317.0 513.0,1313.9 514.0,1315.2 515.0,1308.4 516.0,1311.7 517.0,1314.7 518.0,1310.8 519.0,1311.7 520.0,1316.8 521.0,1314.2 522.0,1313.5 523.0,1312.9 524.0,1312.7 525.0,1313.8 526.0,1312.5 527.0,1314.4 528.0,1315.1 529.0,1309.5 530.0,1312.2 531.0,1312.0 532.0,1316.7 533.0,1313.4 534.0,1311.1 535.0,1316.0 536.0,1310.4 537.0,1313.9 538.0,1312.1 539.0,1313.3 540.0,1312.5 541.0,1310.2 542.0,1313.9 543.0,1309.3 544.0,1314.8 545.0,1315.2 546.0,1311.3 547.0,1315.5 548.0,1313.9 549.0,1310.9 550.0,1310.2 551.0,1317.1 552.0,1311.8 553.0,1308.6 554.0,1310.2 555.0,1313.5 556.0,1314.4 557.0,1313.7 558.0,1315.7 559.0,1313.6 560.0,1313.4 561.0,1313.3 562.0,1310.2 563.0,1313.5 564.0,1316.4 565.0,1310.5 566.0,1315.5 567.0,1314.0 568.0,1313.3 569.0,1313.8 570.0,1315.3 571.0,1313.6 572.0,1307.9 573.0,1314.4 574.0,1313.3 575.0,1310.4 576.0,1311.3 577.0,1311.2 578.0,1311.0 579.0,1317.6 580.0,1315.0 581.0,1312.7 582.0,1311.8 583.0,1310.0 584.0,1311.9 585.0,1313.5 586.0,1312.9 587.0,1313.5 588.0,1312.4 589.0,1311.4 590.0,1313.8 591.0,1314.9 592.0,1315.0 593.0,1310.4 594.0,1310.0 595.0,1310.7 596.0,1311.0 597.0,1311.0 598.0,1313.0 599.0,1311.4 600.0,1315.4 601.0,1313.5 602.0,1314.7 603.0,1311.3 604.0,1314.3 605.0,1313.2 606.0,1312.1 607.0,1309.8 608.0,1314.8 609.0,1315.2 610.0,1311.1 611.0,1315.6 612.0,1311.9 613.0,1314.3 614.0,1313.2 615.0,1317.2 616.0,1311.3 617.0,1314.2 618.0,1315.1 619.0,1308.2 620.0,1311.3 621.0,1304.8 622.0,1312.0 623.0,1313.8 624.0,1312.7 625.0,1309.2 626.0,1313.1 627.0,1311.9 628.0,1311.8 629.0,1315.1 630.0,1312.7 631.0,1314.2 632.0,1315.9 633.0,1311.0 634.0,1311.4 635.0,1312.8 636.0,1315.1 637.0,1317.7 638.0,1311.9 639.0,1313.2 640.0,1316.9 641.0,1313.1 642.0,1316.5 643.0,1313.0 644.0,1312.7 645.0,1312.2 646.0,1312.5 647.0,1312.6 648.0,1315.6 649.0,1313.9 650.0,1314.2 651.0,1313.5 652.0,1312.4 653.0,1311.5 654.0,1309.2 655.0,1319.0 656.0,1312.1 657.0,1313.4 658.0,1307.7 659.0,1310.8 660.0,1316.8 661.0,1312.1 662.0,1314.2 663.0,1310.7 664.0,1315.4 665.0,1313.2 666.0,1313.3 667.0,1313.2 668.0,1314.3 669.0,1317.3 670.0,1311.9 671.0,1310.7 672.0,1313.1 673.0,1315.4 674.0,1312.5 675.0,1311.7 676.0,1313.4 677.0,1313.0 678.0,1309.7 679.0,1315.6 680.0,1314.3 681.0,1317.4 682.0,1314.6 683.0,1314.7 684.0,1315.2 685.0,1314.6 686.0,1308.8 687.0,1313.4 688.0,1313.3 689.0,1307.9 690.0,1313.1 691.0,1317.0 692.0,1312.0 693.0,1315.2 694.0,1309.2 695.0,1315.9 696.0,1314.3 697.0,1316.7 698.0,1312.8 699.0,1315.3 700.0,1313.1 701.0,1313.9 702.0,1314.4 703.0,1310.8 704.0,1310.8 705.0,1312.8 706.0,1315.0 707.0,1315.4 708.0,1312.1 709.0,1307.0 710.0,1313.3 711.0,1313.5 712.0,1312.5 713.0,1312.3 714.0,1310.6 715.0,1307.1 716.0,1301.5 717.0,1303.1 718.0,1302.8 719.0,1304.4 720.0,1299.8 721.0,1300.7 722.0,1304.5 723.0,1305.6 724.0,1304.9 725.0,1304.3 726.0,1306.8 727.0,1309.2 728.0,1311.6 729.0,1310.9 730.0,1312.2 731.0,1307.5 732.0,1315.4 733.0,1313.7 734.0,1310.0 735.0,1313.6 736.0,1309.7 737.0,1313.1 738.0,1312.6 739.0,1313.8 740.0,1316.2 741.0,1315.2 742.0,1307.8 743.0,1311.5 744.0,1311.6 745.0,1310.8 746.0,1311.7 747.0,1310.6 748.0,1313.6 749.0,1313.5 750.0,1310.7 751.0,1313.8 752.0,1316.1 753.0,1313.5 754.0,1314.2 755.0,1311.6 756.0,1314.7 757.0,1315.4 758.0,1313.7 759.0,1309.3 760.0,1312.9 761.0,1312.1 762.0,1312.1 763.0,1310.7 764.0,1308.1 765.0,1305.4 766.0,1310.7 767.0,1301.7 768.0,1303.1 769.0,1302.5 770.0,1295.7 771.0,1302.2 772.0,1298.5 773.0,1302.6 774.0,1309.2 775.0,1307.6 776.0,1308.5 777.0,1311.6 778.0,1317.5 779.0,1313.3 780.0,1313.2 781.0,1315.5 782.0,1308.7 783.0,1313.5 784.0,1313.9 785.0,1313.7 786.0,1314.8 787.0,1314.8 788.0,1312.8 789.0,1312.2 790.0,1314.2 791.0,1313.2 792.0,1316.2 793.0,1311.8 794.0,1314.7 795.0,1312.5 796.0,1315.1 797.0,1314.1 798.0,1312.4 799.0,1315.5 800.0,1306.7 801.0,1312.0 802.0,1311.2 803.0,1311.4 804.0,1304.2 805.0,1302.5 806.0,1302.7 807.0,1304.4 808.0,1300.9 809.0,1297.8 810.0,1300.9 811.0,1304.0 812.0,1306.1 813.0,1307.5 814.0,1307.9 815.0,1311.2 816.0,1311.0 817.0,1305.4 818.0,1308.3 819.0,1315.1 820.0,1312.1 821.0,1312.7 822.0,1313.3 823.0,1310.5 824.0,1313.7 825.0,1313.7 826.0,1313.8 827.0,1313.2 828.0,1310.0 829.0,1311.2 830.0,1316.1 831.0,1314.0 832.0,1314.8 833.0,1311.1 834.0,1312.4 835.0,1310.9 836.0,1313.1 837.0,1317.4 838.0,1311.9 839.0,1312.4 840.0,1311.8 841.0,1316.0 842.0,1312.8 843.0,1314.6 844.0,1314.6 845.0,1312.1 846.0,1312.1 847.0,1315.0 848.0,1317.0 849.0,1318.7 850.0,1314.3 851.0,1310.4 852.0,1313.1 853.0,1318.2 854.0,1315.0 855.0,1312.0 856.0,1309.1 857.0,1310.2 858.0,1312.1 859.0,1312.5 860.0,1315.4 861.0,1314.0 862.0,1313.7 863.0,1314.8 864.0,1312.8 865.0,1313.9 866.0,1312.2 867.0,1309.6 868.0,1311.2 869.0,1311.9 870.0,1313.4 871.0,1316.2 872.0,1312.6 873.0,1310.7 874.0,1313.7 875.0,1307.6 876.0,1310.2 877.0,1307.3 878.0,1307.6 879.0,1308.5 880.0,1299.6 881.0,1306.4 882.0,1301.3 883.0,1305.0 884.0,1303.8 885.0,1307.4 886.0,1307.8 887.0,1306.1 888.0,1304.9 889.0,1312.5 890.0,1311.3 891.0,1309.7 892.0,1313.8 893.0,1311.0 894.0,1314.6 895.0,1311.5 896.0,1311.9 897.0,1310.1 898.0,1312.1 899.0,1315.7 900.0,1311.4 901.0,1315.5 902.0,1311.2 903.0,1309.4 904.0,1311.6 905.0,1314.2 906.0,1310.2 907.0,1312.6 908.0,1315.9 909.0,1313.8 910.0,1309.7 911.0,1313.7 912.0,1312.7 913.0,1313.8 914.0,1316.9 915.0,1314.1 916.0,1312.1 917.0,1312.5 918.0,1313.4 919.0,1317.9 920.0,1310.1 921.0,1311.3 922.0,1310.6 923.0,1309.9 924.0,1314.0 925.0,1314.4 926.0,1312.2 927.0,1309.1 928.0,1316.9 929.0,1313.5 930.0,1314.6 931.0,1311.6 932.0,1309.5 933.0,1313.6 934.0,1315.8 935.0,1312.8 936.0,1313.6 937.0,1316.5 938.0,1310.9 939.0,1314.2 940.0,1311.4 941.0,1316.0 942.0,1310.4 943.0,1316.3 944.0,1310.5 945.0,1317.2 946.0,1309.7 947.0,1313.8 948.0,1316.6 949.0,1313.5 950.0,1312.2 951.0,1315.2 952.0,1314.1 953.0,1312.3 954.0,1313.3 955.0,1320.1 956.0,1313.9 957.0,1311.9 958.0,1312.2 959.0,1310.6 960.0,1314.5 961.0,1307.0 962.0,1311.1 963.0,1312.2 964.0,1310.4 965.0,1310.7 966.0,1312.7 967.0,1314.4 968.0,1310.5 969.0,1311.9 970.0,1317.3 971.0,1315.5 972.0,1311.8 973.0,1312.7 974.0,1312.3 975.0,1311.4 976.0,1312.6 977.0,1309.2 978.0,1314.3 979.0,1313.9 980.0,1312.2 981.0,1311.2 982.0,1311.1 983.0,1309.5 984.0,1314.0 985.0,1310.2 986.0,1311.8 987.0,1315.3 988.0,1313.2 989.0,1308.1 990.0,1311.1 991.0,1314.0 992.0,1318.5 993.0,1314.6 994.0,1314.5 995.0,1312.7 996.0,1307.5 997.0,1311.2 998.0,1312.2 999.0,1315.1 1000.0,1315.7 1001.0,1313.4 1002.0,1314.0 1003.0,1305.9 1004.0,1313.8 1005.0,1314.3 1006.0,1310.3 1007.0,1312.7 1008.0,1315.8 1009.0,1309.9 1010.0,1313.6 1011.0,1316.0 1012.0,1312.1 1013.0,1311.8 1014.0,1313.7 1015.0,1311.3 1016.0,1311.0 1017.0,1314.9 1018.0,1317.7 1019.0,1318.5 1020.0,1313.2 1021.0,1310.0 1022.0,1310.5 1023.0,1309.6 1024.0,1308.6 1025.0,1312.8 1026.0,1310.4 1027.0,1316.4 1028.0,1311.3 1029.0,1312.0 1030.0,1313.1 1031.0,1313.9 1032.0,1315.5 1033.0,1312.5 1034.0,1309.9 1035.0,1313.7 1036.0,1311.6 1037.0,1314.4 1038.0,1312.3 1039.0,1315.2 1040.0,1312.0 1041.0,1313.4 1042.0,1312.1 1043.0,1314.3 1044.0,1315.6 1045.0,1313.6 1046.0,1310.4 1047.0,1309.2 1048.0,1313.6 1049.0,1311.0 1050.0,1311.1 1051.0,1311.9 1052.0,1316.4 1053.0,1312.1 1054.0,1315.1 1055.0,1310.1 1056.0,1311.0 1057.0,1311.4 1058.0,1318.7 1059.0,1311.4 1060.0,1311.2 1061.0,1315.8 1062.0,1310.5 1063.0,1312.6 1064.0,1313.2 1065.0,1314.4 1066.0,1315.2 1067.0,1313.8 1068.0,1305.6 1069.0,1312.3 1070.0,1312.3 1071.0,1314.3 1072.0,1314.2 1073.0,1314.0 1074.0,1314.8 1075.0,1310.7 1076.0,1313.4 1077.0,1310.7 1078.0,1315.4 1079.0,1310.6 1080.0,1312.8 1081.0,1311.2 1082.0,1312.9 1083.0,1314.8 1084.0,1309.9 1085.0,1313.7 1086.0,1313.0 1087.0,1314.7 1088.0,1312.2 1089.0,1313.6 1090.0,1312.0 1091.0,1311.8 1092.0,1314.2 1093.0,1315.9 1094.0,1311.6 1095.0,1310.5 1096.0,1311.0 1097.0,1315.2 1098.0,1311.2 1099.0,1311.6 1100.0,1311.8 1101.0,1311.4 1102.0,1313.0 1103.0,1311.3 1104.0,1309.0 1105.0,1311.3 1106.0,1312.2 1107.0,1307.7 1108.0,1306.0 1109.0,1310.4 1110.0,1308.0 1111.0,1306.1 1112.0,1309.1 1113.0,1309.8 1114.0,1313.9 1115.0,1309.5 1116.0,1307.9 1117.0,1312.6 1118.0,1313.9 1119.0,1314.9 1120.0,1310.1 1121.0,1311.9 1122.0,1313.9 1123.0,1309.2 1124.0,1310.2 1125.0,1310.6 1126.0,1316.0 1127.0,1312.1 1128.0,1310.4 1129.0,1314.6 1130.0,1309.5 1131.0,1308.2 1132.0,1309.0 1133.0,1313.0 1134.0,1312.7 1135.0,1308.7 1136.0,1308.2 1137.0,1307.3 1138.0,1306.9 1139.0,1309.3 1140.0,1309.3 1141.0,1311.9 1142.0,1304.9 1143.0,1300.5 1144.0,1305.9 1145.0,1304.9 1146.0,1301.3 1147.0,1301.1 1148.0,1304.4 1149.0,1302.3 1150.0,1302.7 1151.0,1295.1 1152.0,1301.3 1153.0,1297.6 1154.0,1295.1 1155.0,1295.2 1156.0,1296.2 1157.0,1295.4 1158.0,1301.6 1159.0,1298.7 1160.0,1298.3 1161.0,1295.4 1162.0,1285.9 1163.0,1292.1 1164.0,1281.3 1165.0,1277.0 1166.0,1256.9 1167.0,1232.3 1168.0,1193.6 1169.0,1119.4 1170.0,1032.6 1171.0,946.9 1172.0,937.5 1173.0,995.2 1174.0,1049.5 1175.0,1070.8 1176.0,1072.1 1177.0,1096.7 1178.0,1142.8 1179.0,1200.4 1180.0,1239.1 1181.0,1264.0 1182.0,1278.6 1183.0,1288.8 1184.0,1293.3 1185.0,1292.8 1186.0,1297.7 1187.0,1300.5 1188.0,1301.0 1189.0,1300.8 1190.0,1303.0 1191.0,1303.6 1192.0,1307.5 1193.0,1307.5 1194.0,1309.3 1195.0,1308.2 1196.0,1310.3 1197.0,1309.7 1198.0,1309.5 1199.0,1309.9 1200.0,1310.3 1201.0,1311.1 1202.0,1307.1 1203.0,1311.1 1204.0,1312.9 1205.0,1310.2 1206.0,1313.3 1207.0,1313.4 1208.0,1310.8 1209.0,1315.0 1210.0,1318.7 1211.0,1310.7 1212.0,1309.0 1213.0,1315.4 1214.0,1313.7 1215.0,1310.3 1216.0,1316.3 1217.0,1313.8 1218.0,1314.6 1219.0,1312.3 1220.0,1316.5 1221.0,1309.9 1222.0,1312.3 1223.0,1311.3 1224.0,1312.8 1225.0,1317.0 1226.0,1312.5 1227.0,1315.3 1228.0,1312.2 1229.0,1314.2 1230.0,1313.0 1231.0,1312.8 1232.0,1310.5 1233.0,1310.5 1234.0,1314.7 1235.0,1312.4 1236.0,1309.0 1237.0,1311.2 1238.0,1314.1 1239.0,1312.7 1240.0,1313.2 1241.0,1310.3 1242.0,1312.4 1243.0,1311.6 1244.0,1307.3 1245.0,1315.7 1246.0,1314.9 1247.0,1316.6 1248.0,1316.2 1249.0,1310.6 1250.0,1311.9 1251.0,1308.8 1252.0,1317.2 1253.0,1314.6 1254.0,1309.2 1255.0,1310.2 1256.0,1310.5 1257.0,1310.6 1258.0,1312.6 1259.0,1312.7 1260.0,1312.6 1261.0,1310.7 1262.0,1313.0 1263.0,1311.9 1264.0,1309.3 1265.0,1315.3 1266.0,1314.4 1267.0,1311.4 1268.0,1313.3 1269.0,1313.1 1270.0,1307.8 1271.0,1311.7 1272.0,1313.7 1273.0,1310.2 1274.0,1306.9 1275.0,1315.3 1276.0,1314.3 1277.0,1312.5 1278.0,1314.2 1279.0,1307.7 1280.0,1311.5 1281.0,1313.7 1282.0,1311.6 1283.0,1314.6 1284.0,1314.2 1285.0,1312.5 1286.0,1307.2 1287.0,1318.0 1288.0,1311.8 1289.0,1309.6 1290.0,1311.0 1291.0,1308.3 1292.0,1311.7 1293.0,1312.4 1294.0,1313.1 1295.0,1314.8 1296.0,1309.0 1297.0,1315.5 1298.0,1313.1 1299.0,1314.0 1300.0,1314.6 1301.0,1318.0 1302.0,1313.7 1303.0,1312.5 1304.0,1312.5 1305.0,1310.8 1306.0,1313.2 1307.0,1314.3 1308.0,1312.1 1309.0,1311.3 1310.0,1314.9 1311.0,1316.3 1312.0,1315.2 1313.0,1310.3 1314.0,1310.5 1315.0,1314.9 1316.0,1312.5 1317.0,1310.9 1318.0,1309.7 1319.0,1314.3 1320.0,1313.4 1321.0,1309.5 1322.0,1307.2 1323.0,1309.3 1324.0,1315.5 1325.0,1311.8 1326.0,1313.5 1327.0,1313.0 1328.0,1314.4 1329.0,1313.9 1330.0,1312.8 1331.0,1308.6 1332.0,1311.2 1333.0,1311.8 1334.0,1312.8 1335.0,1314.6 1336.0,1313.4 1337.0,1309.9 1338.0,1310.9 1339.0,1308.2 1340.0,1312.2 1341.0,1312.9 1342.0,1316.6 1343.0,1311.9 1344.0,1316.8 1345.0,1309.3 1346.0,1314.3 1347.0,1312.8 1348.0,1316.0 1349.0,1314.0 1350.0,1315.0 1351.0,1310.2 1352.0,1312.2 1353.0,1315.6 1354.0,1317.3 1355.0,1313.0 1356.0,1314.0 1357.0,1315.4 1358.0,1311.4 1359.0,1313.3 1360.0,1312.6 1361.0,1314.2 1362.0,1314.1 1363.0,1313.9 1364.0,1316.6 1365.0,1311.4 1366.0,1311.9 1367.0,1316.8 1368.0,1312.6 1369.0,1310.1 1370.0,1312.3 1371.0,1309.8 1372.0,1313.4 1373.0,1312.8 1374.0,1315.8 1375.0,1314.9 1376.0,1317.1 1377.0,1314.9 1378.0,1312.2 1379.0,1311.6 1380.0,1310.1 1381.0,1312.5 1382.0,1315.1 1383.0,1311.8 1384.0,1313.1 1385.0,1308.6 1386.0,1308.2 1387.0,1310.6 1388.0,1315.4 1389.0,1314.0 1390.0,1312.4 1391.0,1314.5 1392.0,1311.6 1393.0,1311.2 1394.0,1310.8 1395.0,1312.3 1396.0,1314.9 1397.0,1314.8 1398.0,1313.1 1399.0,1309.7 1400.0,1309.1 1401.0,1310.5 1402.0,1311.9 1403.0,1311.2 1404.0,1310.9 1405.0,1309.8 1406.0,1310.8 1407.0,1316.4 1408.0,1310.6 1409.0,1311.9 1410.0,1313.8 1411.0,1311.5 1412.0,1312.1 1413.0,1312.9 1414.0,1316.7 1415.0,1312.5 1416.0,1311.5 1417.0,1312.9 1418.0,1316.5 1419.0,1311.7 1420.0,1311.1 1421.0,1312.3 1422.0,1311.8 1423.0,1313.6 1424.0,1314.3 1425.0,1311.5 1426.0,1313.6 1427.0,1312.3 1428.0,1305.1 1429.0,1311.1 1430.0,1312.4 1431.0,1316.5 1432.0,1312.5 1433.0,1310.9 1434.0,1314.4 1435.0,1313.3 1436.0,1318.0 1437.0,1311.4 1438.0,1314.1 1439.0,1311.1 1440.0,1309.5 1441.0,1313.1 1442.0,1310.4 1443.0,1312.1 1444.0,1313.2 1445.0,1313.3 1446.0,1314.7 1447.0,1309.7 1448.0,1310.6 1449.0,1315.0 1450.0,1310.7 1451.0,1314.3 1452.0,1316.1 1453.0,1309.8 1454.0,1315.6 1455.0,1309.9 1456.0,1312.2 1457.0,1310.5 1458.0,1311.4 1459.0,1309.9 1460.0,1311.8 1461.0,1311.2 1462.0,1312.0 1463.0,1310.0 1464.0,1313.5 1465.0,1310.2 1466.0,1309.1 1467.0,1312.7 1468.0,1311.5 1469.0,1313.7 1470.0,1313.2 1471.0,1311.9 1472.0,1313.3 1473.0,1314.6 1474.0,1312.6 1475.0,1312.0 1476.0,1311.7 1477.0,1310.8 1478.0,1316.6 1479.0,1309.2 1480.0,1312.8 1481.0,1314.2 1482.0,1313.2 1483.0,1311.3 1484.0,1310.3 1485.0,1313.1 1486.0,1311.7 1487.0,1315.6 1488.0,1311.3 1489.0,1311.6 1490.0,1312.0 1491.0,1308.5 1492.0,1305.8 1493.0,1306.9 1494.0,1310.5 1495.0,1304.4 1496.0,1303.8 1497.0,1302.6 1498.0,1303.3 1499.0,1300.6 1500.0,1300.3 1501.0,1301.3 1502.0,1302.4 1503.0,1302.7 1504.0,1303.8 1505.0,1301.3 1506.0,1305.4 1507.0,1305.2 1508.0,1305.9 1509.0,1307.7 1510.0,1306.9 1511.0,1310.1 1512.0,1306.0 1513.0,1305.9 1514.0,1308.0 1515.0,1303.7 1516.0,1309.3 1517.0,1306.1 1518.0,1306.3 1519.0,1308.6 1520.0,1307.9 1521.0,1305.2 1522.0,1307.1 1523.0,1306.5 1524.0,1303.9 1525.0,1306.6 1526.0,1310.9 1527.0,1308.6 1528.0,1304.9 1529.0,1307.1 1530.0,1309.2 1531.0,1311.2 1532.0,1305.8 1533.0,1303.0 1534.0,1309.3 1535.0,1311.3 1536.0,1305.0 1537.0,1307.3 1538.0,1306.6 1539.0,1306.6 1540.0,1307.8 1541.0,1304.5 1542.0,1303.2 1543.0,1304.4 1544.0,1306.3 1545.0,1302.4 1546.0,1304.8 1547.0,1303.0 1548.0,1306.3 1549.0,1302.3 1550.0,1301.8 1551.0,1300.2 1552.0,1302.7 1553.0,1301.4 1554.0,1303.3 1555.0,1299.4 1556.0,1299.1 1557.0,1297.7 1558.0,1300.4 1559.0,1301.5 1560.0,1302.2 1561.0,1301.5 1562.0,1301.5 1563.0,1297.0 1564.0,1294.6 1565.0,1293.9 1566.0,1290.0 1567.0,1288.9 1568.0,1288.7 1569.0,1283.6 1570.0,1277.8 1571.0,1268.7 1572.0,1259.4 1573.0,1249.3 1574.0,1230.5 1575.0,1209.0 1576.0,1163.4 1577.0,1078.5 1578.0,934.6 1579.0,700.1 1580.0,420.2 1581.0,258.5 1582.0,388.4 1583.0,629.2 1584.0,792.1 1585.0,834.5 1586.0,774.7 1587.0,717.9 1588.0,788.7 1589.0,937.7 1590.0,1072.7 1591.0,1154.9 1592.0,1207.9 1593.0,1239.3 1594.0,1254.1 1595.0,1266.2 1596.0,1272.1 1597.0,1278.0 1598.0,1285.6 1599.0,1286.5 1600.0,1290.3 1601.0,1294.3 1602.0,1295.6 1603.0,1296.4 1604.0,1300.1 1605.0,1302.2 1606.0,1298.9 1607.0,1302.7 1608.0,1304.9 1609.0,1303.3 1610.0,1308.3 1611.0,1305.4 1612.0,1309.2 1613.0,1307.5 1614.0,1311.0 1615.0,1309.0 1616.0,1305.6 1617.0,1308.4 1618.0,1311.1 1619.0,1304.6 1620.0,1310.2 1621.0,1305.6 1622.0,1310.4 1623.0,1312.7 1624.0,1305.3 1625.0,1310.7 1626.0,1308.1 1627.0,1307.3 1628.0,1313.2 1629.0,1310.1 1630.0,1311.7 1631.0,1309.1 1632.0,1310.6 1633.0,1313.6 1634.0,1310.7 1635.0,1309.1 1636.0,1311.6 1637.0,1309.7 1638.0,1312.3 1639.0,1311.3 1640.0,1310.4 1641.0,1311.0 1642.0,1308.4 1643.0,1309.2 1644.0,1309.5 1645.0,1309.8 1646.0,1311.2 1647.0,1314.2 1648.0,1309.2 1649.0,1307.7 1650.0,1311.2 1651.0,1312.3 1652.0,1311.9 1653.0,1309.1 1654.0,1311.2 1655.0,1314.1 1656.0,1312.3 1657.0,1313.7 1658.0,1312.4 1659.0,1314.0 1660.0,1314.0 1661.0,1308.7 1662.0,1309.7 1663.0,1315.8 1664.0,1314.3 1665.0,1313.1 1666.0,1313.0 1667.0,1315.3 1668.0,1310.2 1669.0,1315.9 1670.0,1310.6 1671.0,1310.7 1672.0,1313.1 1673.0,1313.8 1674.0,1312.1 1675.0,1312.0 1676.0,1317.1 1677.0,1315.2 1678.0,1311.1 1679.0,1312.6 1680.0,1313.3 1681.0,1314.6 1682.0,1314.0 1683.0,1314.1 1684.0,1306.1 1685.0,1315.3 1686.0,1308.9 1687.0,1311.4 1688.0,1312.0 1689.0,1312.0 1690.0,1313.3 1691.0,1308.8 1692.0,1311.3 1693.0,1312.6 1694.0,1312.8 1695.0,1312.1 1696.0,1315.1 1697.0,1313.3 1698.0,1314.0 1699.0,1311.1 1700.0,1311.2 1701.0,1316.8 1702.0,1313.1 1703.0,1310.3 1704.0,1315.5 1705.0,1315.3 1706.0,1310.3 1707.0,1312.9 1708.0,1313.6 1709.0,1315.4 1710.0,1312.2 1711.0,1313.9 1712.0,1312.1 1713.0,1311.7 1714.0,1311.0 1715.0,1313.4 1716.0,1313.8 1717.0,1312.6 1718.0,1312.9 1719.0,1312.3 1720.0,1313.9 1721.0,1313.2 1722.0,1314.0 1723.0,1314.0 1724.0,1312.3 1725.0,1310.1 1726.0,1313.9 1727.0,1311.4 1728.0,1311.9 1729.0,1312.5 1730.0,1311.2 1731.0,1314.0 1732.0,1311.4 1733.0,1312.0 1734.0,1320.7 1735.0,1311.9 1736.0,1311.4 1737.0,1308.3 1738.0,1315.1 1739.0,1312.5 1740.0,1311.9 1741.0,1314.9 1742.0,1310.0 1743.0,1311.7 1744.0,1314.6 1745.0,1315.5 1746.0,1313.7 1747.0,1307.3 1748.0,1307.8 1749.0,1318.4 1750.0,1316.9 1751.0,1311.2 1752.0,1313.0 1753.0,1314.2 1754.0,1311.4 1755.0,1312.6 1756.0,1312.1 1757.0,1312.2 1758.0,1315.3 1759.0,1309.8 1760.0,1313.8 1761.0,1310.2 1762.0,1311.2 1763.0,1312.7 1764.0,1312.5 1765.0,1312.9 1766.0,1317.0 1767.0,1313.5 1768.0,1311.8 1769.0,1316.5 1770.0,1316.2 1771.0,1310.3 1772.0,1311.0 1773.0,1316.3 1774.0,1311.8 1775.0,1312.9 1776.0,1310.6 1777.0,1313.6 1778.0,1313.3 1779.0,1314.5 1780.0,1312.4 1781.0,1313.1 1782.0,1314.3 1783.0,1313.6 1784.0,1314.5 1785.0,1311.4 1786.0,1315.2 1787.0,1316.4 1788.0,1315.0 1789.0,1310.4 1790.0,1314.0 1791.0,1311.4 1792.0,1311.2 1793.0,1314.0 1794.0,1311.1 1795.0,1311.7 1796.0,1312.9 1797.0,1314.5 1798.0,1313.0 1799.0,1315.8 1800.0,1313.5 1801.0,1314.2 1802.0,1311.8 1803.0,1312.1 1804.0,1314.3 1805.0,1310.9 1806.0,1310.1 1807.0,1312.7 1808.0,1314.5 1809.0,1311.7 1810.0,1318.5 1811.0,1314.2 1812.0,1311.5 1813.0,1308.3 1814.0,1314.5 1815.0,1309.3 1816.0,1307.5 1817.0,1308.5 1818.0,1318.3 1819.0,1310.3 1820.0,1312.4 1821.0,1310.5 1822.0,1313.3 1823.0,1314.3 1824.0,1313.4 1825.0,1309.4 1826.0,1310.9 1827.0,1313.5 1828.0,1312.0 1829.0,1310.9 1830.0,1311.6 1831.0,1313.0 1832.0,1314.4 1833.0,1314.6 1834.0,1313.9 1835.0,1314.1 1836.0,1316.5 1837.0,1316.1 1838.0,1310.9 1839.0,1315.5 1840.0,1315.9 1841.0,1313.0 1842.0,1309.5 1843.0,1310.0 1844.0,1313.8 1845.0,1315.3 1846.0,1314.1 1847.0,1315.0 1848.0,1314.1 1849.0,1311.8 1850.0,1315.3 1851.0,1314.7 1852.0,1313.5 1853.0,1312.9 1854.0,1314.7 1855.0,1314.7 1856.0,1315.5 1857.0,1314.6 1858.0,1311.7 1859.0,1313.4 1860.0,1320.1 1861.0,1311.5 1862.0,1313.0 1863.0,1314.9 1864.0,1313.5 1865.0,1319.9 1866.0,1316.7 1867.0,1310.2 1868.0,1307.9 1869.0,1307.8 1870.0,1314.6 1871.0,1312.8 1872.0,1311.1 1873.0,1315.7 1874.0,1308.8 1875.0,1314.6 1876.0,1312.1 1877.0,1315.5 1878.0,1312.0 1879.0,1312.9 1880.0,1310.4 1881.0,1315.6 1882.0,1312.9 1883.0,1308.7 1884.0,1315.6 1885.0,1312.1 1886.0,1311.9 1887.0,1314.0 1888.0,1313.5 1889.0,1309.6 1890.0,1310.2 1891.0,1311.6 1892.0,1312.3 1893.0,1315.5 1894.0,1312.7 1895.0,1308.7 1896.0,1310.4 1897.0,1316.0 1898.0,1317.7 1899.0,1314.4 1900.0,1312.5 1901.0,1314.1 1902.0,1313.6 1903.0,1312.1 1904.0,1310.8 1905.0,1312.4 1906.0,1309.9 1907.0,1316.2 1908.0,1311.8 1909.0,1311.9 1910.0,1316.3 1911.0,1309.9 1912.0,1316.6 1913.0,1316.2 1914.0,1306.6 1915.0,1309.8 1916.0,1312.0 1917.0,1309.7 1918.0,1310.2 1919.0,1315.5 1920.0,1311.7 1921.0,1309.6 1922.0,1313.2 1923.0,1312.7 1924.0,1313.9 1925.0,1311.1 1926.0,1314.1 1927.0,1314.2 1928.0,1315.7 1929.0,1315.0 1930.0,1312.3 1931.0,1311.7 1932.0,1313.7 1933.0,1315.3 1934.0,1312.0 1935.0,1312.0 1936.0,1309.8 1937.0,1313.9 1938.0,1313.7 1939.0,1311.6 1940.0,1309.2 1941.0,1312.9 1942.0,1313.0 1943.0,1315.0 1944.0,1313.6 1945.0,1310.5 1946.0,1310.7 1947.0,1310.1 1948.0,1316.6 1949.0,1310.8 1950.0,1314.9 1951.0,1311.3 1952.0,1318.2 1953.0,1312.9 1954.0,1314.7 1955.0,1309.7 1956.0,1312.4 1957.0,1309.6 1958.0,1313.7 1959.0,1308.0 1960.0,1313.6 1961.0,1308.1 1962.0,1313.7 1963.0,1314.8 1964.0,1310.4 1965.0,1313.4 1966.0,1312.6 1967.0,1315.6 1968.0,1313.2 1969.0,1312.1 1970.0,1314.0 1971.0,1311.4 1972.0,1317.7 1973.0,1310.2 1974.0,1313.2 1975.0,1308.7 1976.0,1312.9 1977.0,1313.6 1978.0,1313.1 1979.0,1311.3 1980.0,1310.5 1981.0,1312.9 1982.0,1313.5 1983.0,1310.5 1984.0,1309.5 1985.0,1315.4 1986.0,1313.6 1987.0,1312.5 1988.0,1306.7 1989.0,1307.5 1990.0,1308.2 1991.0,1308.6 1992.0,1311.9 1993.0,1306.1 1994.0,1309.0 1995.0,1308.9 1996.0,1301.3 1997.0,1307.7 1998.0,1298.7 1999.0,1297.8 2000.0,1294.2 2001.0,1280.7 2002.0,1264.7 2003.0,1235.2 2004.0,1206.1 2005.0,1190.9 2006.0,1195.2 2007.0,1229.6 2008.0,1246.8 2009.0,1257.3 2010.0,1251.6 2011.0,1245.5 2012.0,1240.0 2013.0,1255.9 2014.0,1263.9 2015.0,1280.8 2016.0,1295.3 2017.0,1297.1 2018.0,1301.4 2019.0,1298.2 2020.0,1306.0 2021.0,1305.5 2022.0,1307.0 2023.0,1307.3 2024.0,1309.7 2025.0,1311.0 2026.0,1308.7 2027.0,1307.7 2028.0,1313.6 2029.0,1313.8 2030.0,1311.4 2031.0,1307.2 2032.0,1312.0 2033.0,1315.7 2034.0,1309.9 2035.0,1310.1 2036.0,1307.3 2037.0,1311.6 2038.0,1307.4 2039.0,1313.8 2040.0,1310.0 2041.0,1311.9 2042.0,1315.1 2043.0,1313.0 2044.0,1309.2 2045.0,1309.7 2046.0,1313.3 2047.0,1309.8 2048.0,1310.3 2049.0,1310.4 2050.0,1311.8 2051.0,1311.8 2052.0,1314.5 2053.0,1312.7 2054.0,1312.3 2055.0,1314.3 2056.0,1313.3 2057.0,1312.2 2058.0,1312.1 2059.0,1310.2 2060.0,1315.1 2061.0,1313.6 2062.0,1312.1 2063.0,1313.6 2064.0,1311.9 2065.0,1313.8 2066.0,1309.9 2067.0,1313.3 2068.0,1315.4 2069.0,1311.0 2070.0,1308.8 2071.0,1317.3 2072.0,1313.1 2073.0,1312.6 2074.0,1310.3 2075.0,1309.3 2076.0,1313.2 2077.0,1316.5 2078.0,1311.2 2079.0,1310.4 2080.0,1311.7 2081.0,1312.6 2082.0,1314.7 2083.0,1307.1 2084.0,1315.7 2085.0,1316.4 2086.0,1310.5 2087.0,1312.2 2088.0,1311.3 2089.0,1312.0 2090.0,1308.9 2091.0,1309.5 2092.0,1314.1 2093.0,1310.5 2094.0,1315.6 2095.0,1316.9 2096.0,1310.0 2097.0,1313.9 2098.0,1317.9 2099.0,1312.9 2100.0,1314.4 2101.0,1311.7 2102.0,1313.0 2103.0,1314.7 2104.0,1314.6 2105.0,1311.1 2106.0,1315.1 2107.0,1312.6 2108.0,1315.2 2109.0,1311.8 2110.0,1308.7 2111.0,1311.5 2112.0,1310.3 2113.0,1311.8 2114.0,1315.2 2115.0,1313.6 2116.0,1312.7 2117.0,1311.9 2118.0,1314.3 2119.0,1311.5 2120.0,1314.6 2121.0,1312.7 2122.0,1312.9 2123.0,1315.6 2124.0,1310.5 2125.0,1312.8 2126.0,1312.7 2127.0,1313.0 2128.0,1317.9 2129.0,1316.2 2130.0,1315.0 2131.0,1310.6 2132.0,1314.3 2133.0,1311.5 2134.0,1315.3 2135.0,1314.9 2136.0,1314.0 2137.0,1310.4 2138.0,1316.8 2139.0,1313.3 2140.0,1312.0 2141.0,1312.6 2142.0,1313.0 2143.0,1311.1 2144.0,1312.2 2145.0,1315.3 2146.0,1311.4 2147.0,1314.8 2148.0,1313.7 2149.0,1309.5 2150.0,1307.2 2151.0,1309.5 2152.0,1311.9 2153.0,1314.8 2154.0,1314.7 2155.0,1309.0 2156.0,1312.1 2157.0,1316.2 2158.0,1309.2 2159.0,1311.6 2160.0,1309.8 2161.0,1312.0 2162.0,1318.0 2163.0,1314.7 2164.0,1313.3 2165.0,1313.3 2166.0,1309.4 2167.0,1314.5 2168.0,1313.2 2169.0,1313.1 2170.0,1313.2 2171.0,1315.4 2172.0,1315.8 2173.0,1319.0 2174.0,1312.2 2175.0,1313.4 2176.0,1312.5 2177.0,1315.4 2178.0,1312.9 2179.0,1315.2 2180.0,1315.3 2181.0,1312.2 2182.0,1311.4 2183.0,1311.6 2184.0,1313.0 2185.0,1313.9 2186.0,1309.7 2187.0,1310.0 2188.0,1314.4 2189.0,1315.5 2190.0,1312.1 2191.0,1312.2 2192.0,1315.1 2193.0,1307.6 2194.0,1317.9 2195.0,1314.9 2196.0,1312.4 2197.0,1310.6 2198.0,1317.3 2199.0,1314.0 2200.0,1309.6 2201.0,1309.6 2202.0,1313.5 2203.0,1312.9 2204.0,1315.0 2205.0,1312.0 2206.0,1315.4 2207.0,1317.7 2208.0,1316.5 2209.0,1312.8 2210.0,1316.0 2211.0,1310.3 2212.0,1309.9 2213.0,1310.6 2214.0,1311.4 2215.0,1310.3 2216.0,1312.3 2217.0,1310.9 2218.0,1311.9 2219.0,1311.1 2220.0,1315.3 2221.0,1314.5 2222.0,1315.3 2223.0,1311.0 2224.0,1311.8 2225.0,1314.8 2226.0,1315.3 2227.0,1314.3 2228.0,1310.9 2229.0,1313.2 2230.0,1313.5 2231.0,1314.6 2232.0,1313.2 2233.0,1309.2 2234.0,1314.6 2235.0,1313.8 2236.0,1309.0 2237.0,1311.3 2238.0,1315.6 2239.0,1310.4 2240.0,1315.9 2241.0,1311.6 2242.0,1318.9 2243.0,1315.3 2244.0,1310.8 2245.0,1314.4 2246.0,1314.7 2247.0,1312.8 2248.0,1313.0 2249.0,1314.1 2250.0,1314.5 2251.0,1308.7 2252.0,1309.5 2253.0,1312.2 2254.0,1315.7 2255.0,1314.2 2256.0,1313.6 2257.0,1311.8 2258.0,1309.2 2259.0,1314.2 2260.0,1312.6 2261.0,1314.0 2262.0,1312.6 2263.0,1314.6" fill="none" stroke="#00f" stroke-width="3" stroke-linejoin="round"/>
<text x="211" y="1343.6" text-anchor="end" font-size="71.5">0.0</text>
<text x="211" y="1131.9" text-anchor="end" font-size="71.5">0.2</text>
<text x="211" y="920.2" text-anchor="end" font-size="71.5">0.4</text>
<text x="211" y="708.5" text-anchor="end" font-size="71.5">0.6</text>
<text x="211" y="496.7" text-anchor="end" font-size="71.5">0.8</text>
<text x="211" y="285.0" text-anchor="end" font-size="71.5">1.0</text>
<text x="211" y="73.3" text-anchor="end" font-size="71.5">1.2</text>
<text x="231.5" y="1397.2" text-anchor="middle" font-size="71.5">20</text>
<text x="485.6" y="1397.2" text-anchor="middle" font-size="71.5">25</text>
<text x="739.6" y="1397.2" text-anchor="middle" font-size="71.5">30</text>
<text x="993.7" y="1397.2" text-anchor="middle" font-size="71.5">35</text>
<text x="1247.8" y="1397.2" text-anchor="middle" font-size="71.5">40</text>
<text x="1501.8" y="1397.2" text-anchor="middle" font-size="71.5">45</text>
<text x="1755.9" y="1397.2" text-anchor="middle" font-size="71.5">50</text>
<text x="2009.9" y="1397.2" text-anchor="middle" font-size="71.5">55</text>
<text x="2264.0" y="1397.2" text-anchor="middle" font-size="71.5">60</text>
<rect x="283.0" y="183" width="184" height="87" fill="#fff"/>
<text x="375.5" y="253.3" text-anchor="middle" font-size="77" letter-spacing="1">(003)</text>
<rect x="675.5" y="183" width="184" height="87" fill="#fff"/>
<text x="768.0" y="253.3" text-anchor="middle" font-size="77" letter-spacing="1">(004)</text>
<rect x="1079.0" y="183" width="184" height="87" fill="#fff"/>
<text x="1171.5" y="253.3" text-anchor="middle" font-size="77" letter-spacing="1">(005)</text>
<rect x="1494.7" y="183" width="184" height="87" fill="#fff"/>
<text x="1587.2" y="253.3" text-anchor="middle" font-size="77" letter-spacing="1">(006)</text>
<rect x="1927.2" y="183" width="184" height="87" fill="#fff"/>
<text x="2019.7" y="253.3" text-anchor="middle" font-size="77" letter-spacing="1">(007)</text>
<text x="245" y="128.7" font-size="77" letter-spacing="2">(a)</text>
<text transform="translate(86,686.4) rotate(-90)" text-anchor="middle" font-size="75.6">Normalized intensity</text>
<rect x="1886.4" y="432.0" width="317.0999999999999" height="254" fill="#fff" stroke="#000" stroke-width="1.6"/>
<line x1="1886.4" y1="472.0" x2="2046" y2="472.0" stroke="#000" stroke-width="3"/>
<text x="2064" y="497.0" font-size="72">G1T</text>
<line x1="1886.4" y1="559.0" x2="2046" y2="559.0" stroke="#f00" stroke-width="3"/>
<text x="2064" y="584.0" font-size="72">G3T</text>
<line x1="1886.4" y1="646.0" x2="2046" y2="646.0" stroke="#00f" stroke-width="3"/>
<text x="2064" y="671.0" font-size="72">B3B</text>
<path d="M231.50,2739.30v-20M231.50,1469.00v20M739.62,2739.30v-20M739.62,1469.00v20M1247.75,2739.30v-20M1247.75,1469.00v20M1755.88,2739.30v-20M1755.88,1469.00v20M2264.00,2739.30v-20M2264.00,1469.00v20M333.13,2739.30v-10M333.13,1469.00v10M434.75,2739.30v-10M434.75,1469.00v10M536.37,2739.30v-10M536.37,1469.00v10M638.00,2739.30v-10M638.00,1469.00v10M841.25,2739.30v-10M841.25,1469.00v10M942.88,2739.30v-10M942.88,1469.00v10M1044.50,2739.30v-10M1044.50,1469.00v10M1146.12,2739.30v-10M1146.12,1469.00v10M1349.38,2739.30v-10M1349.38,1469.00v10M1451.00,2739.30v-10M1451.00,1469.00v10M1552.62,2739.30v-10M1552.62,1469.00v10M1654.25,2739.30v-10M1654.25,1469.00v10M1857.50,2739.30v-10M1857.50,1469.00v10M1959.13,2739.30v-10M1959.13,1469.00v10M2060.75,2739.30v-10M2060.75,1469.00v10M2162.37,2739.30v-10M2162.37,1469.00v10M231.50,2739.30h20M2264.00,2739.30h-20M231.50,2633.44h10M2264.00,2633.44h-10M231.50,2527.58h20M2264.00,2527.58h-20M231.50,2421.73h10M2264.00,2421.73h-10M231.50,2315.87h20M2264.00,2315.87h-20M231.50,2210.01h10M2264.00,2210.01h-10M231.50,2104.15h20M2264.00,2104.15h-20M231.50,1998.29h10M2264.00,1998.29h-10M231.50,1892.43h20M2264.00,1892.43h-20M231.50,1786.58h10M2264.00,1786.58h-10M231.50,1680.72h20M2264.00,1680.72h-20M231.50,1574.86h10M2264.00,1574.86h-10M231.50,1469.00h20M2264.00,1469.00h-20" stroke="#000" stroke-width="3.0" fill="none"/>
<path d="M230,1467h2036v4h-2036z M230,2737h2036v3h-2036z M230,1467h3v1273h-3z M2262,1467h4v1273h-4z" fill="#000"/>
<line x1="1441.2" y1="1469.0" x2="1441.2" y2="2739.3" stroke="#000" stroke-width="6" stroke-dasharray="26.5 13.2 8.8 14.2 8.8 14.2"/>
<line x1="1523" y1="1469.0" x2="1523" y2="2739.3" stroke="#000" stroke-width="6" stroke-dasharray="26.5 13.2 8.8 14.2 8.8 14.2"/>
<line x1="1595.1" y1="1469.0" x2="1595.1" y2="2739.3" stroke="#000" stroke-width="6" stroke-dasharray="26.5 13.2 8.8 14.2 8.8 14.2"/>
<polyline points="232.0,2733.0 681.0,2732.5 853.0,2731.2 980.8,2730.7 1019.9,2730.0 1059.0,2728.6 1098.1,2726.8 1130.0,2725.5 1177.0,2720.5 1204.0,2716.5 1232.0,2712.5 1256.1,2707.9 1283.0,2700.5 1308.9,2689.4 1335.8,2669.0 1362.7,2634.7 1389.5,2575.3 1414.6,2490.1 1441.6,2432.0 1468.5,2462.2 1494.9,2536.3 1521.8,2568.8 1547.7,2566.5 1573.7,2581.3 1600.0,2626.5 1626.5,2675.5 1653.0,2702.0 1679.5,2714.3 1706.0,2720.0 1732.5,2723.5 1759.0,2726.1 1785.5,2728.0 1812.0,2729.2 1838.5,2730.2 1865.0,2731.0 1892.2,2730.9 2074.7,2733.0 2264.0,2734.3" fill="none" stroke="#000" stroke-width="2.2" stroke-linejoin="round"/>
<polyline points="232.0,2736.4 681.0,2735.2 707.0,2737.0 837.4,2733.0 941.7,2733.0 1019.9,2732.5 1059.0,2730.5 1131.0,2728.6 1230.1,2722.7 1256.1,2718.1 1283.0,2712.2 1308.9,2705.5 1335.8,2697.3 1361.7,2687.5 1389.5,2674.5 1415.5,2652.3 1442.4,2627.2 1468.5,2595.2 1494.9,2550.2 1521.8,2490.0 1547.7,2415.8 1573.7,2343.0 1600.0,2337.8 1626.5,2410.2 1653.0,2484.7 1679.5,2510.2 1706.0,2526.5 1732.5,2573.5 1759.0,2635.7 1785.5,2675.5 1812.0,2696.9 1838.5,2710.2 1865.0,2718.4 1892.2,2723.0 1918.3,2725.7 1944.3,2727.7 1970.4,2729.6 2022.6,2730.9 2074.7,2734.3 2126.8,2735.6 2264.0,2734.3" fill="none" stroke="#f00" stroke-width="2.2" stroke-linejoin="round"/>
<polyline points="232.0,2727.8 250.6,2726.0 279.2,2726.0 304.0,2723.4 332.7,2729.9 345.7,2729.1 384.8,2727.0 413.5,2727.0 438.2,2724.7 460.4,2727.0 490.4,2731.2 517.8,2726.0 543.8,2723.1 569.9,2727.8 593.4,2726.0 623.3,2731.7 653.3,2726.5 681.0,2724.7 700.6,2724.7 729.2,2731.2 755.3,2724.7 781.4,2727.9 808.7,2723.4 834.8,2724.2 860.9,2718.2 884.3,2722.1 910.4,2721.6 936.5,2720.0 963.8,2720.8 991.2,2716.4 1017.3,2715.6 1044.7,2709.9 1072.0,2709.1 1098.1,2701.3 1124.2,2699.4 1150.4,2692.1 1177.0,2681.0 1204.2,2669.0 1230.1,2651.3 1256.1,2631.0 1283.0,2601.3 1308.9,2556.8 1336.7,2499.3 1362.5,2397.3 1389.0,2274.5 1415.2,2157.6 1441.4,2081.7 1466.9,2050.0 1495.8,2029.1 1521.3,1991.3 1548.0,2012.4 1574.6,2127.6 1600.6,2255.9 1626.5,2361.2 1653.0,2426.5 1679.5,2491.8 1706.0,2561.2 1732.5,2626.5 1759.0,2661.2 1785.5,2676.5 1812.0,2691.8 1838.5,2699.0 1865.0,2705.1 1892.2,2712.6 1918.3,2718.6 1944.3,2718.1 1970.4,2717.3 1996.5,2720.4 2022.6,2718.6 2048.6,2721.7 2074.7,2725.1 2100.8,2723.8 2126.8,2725.9 2152.9,2727.7 2179.0,2727.0 2207.6,2729.0 2231.1,2727.7 2264.0,2727.7" fill="none" stroke="#00f" stroke-width="2.2" stroke-linejoin="round"/>
<text x="211" y="2760.9" text-anchor="end" font-size="71.5">0.0</text>
<text x="211" y="2549.2" text-anchor="end" font-size="71.5">0.2</text>
<text x="211" y="2337.5" text-anchor="end" font-size="71.5">0.4</text>
<text x="211" y="2125.8" text-anchor="end" font-size="71.5">0.6</text>
<text x="211" y="1914.0" text-anchor="end" font-size="71.5">0.8</text>
<text x="211" y="1702.3" text-anchor="end" font-size="71.5">1.0</text>
<text x="211" y="1490.6" text-anchor="end" font-size="71.5">1.2</text>
<text x="231.5" y="2814.4" text-anchor="middle" font-size="71.5">22.25</text>
<text x="739.6" y="2814.4" text-anchor="middle" font-size="71.5">22.50</text>
<text x="1247.8" y="2814.4" text-anchor="middle" font-size="71.5">22.75</text>
<text x="1755.9" y="2814.4" text-anchor="middle" font-size="71.5">23.00</text>
<text x="2264.0" y="2814.4" text-anchor="middle" font-size="71.5">23.25</text>
<rect x="1205.4" y="2031.6" width="200" height="85.5" fill="#fff"/>
<text x="1207.4" y="2100.6" font-size="79">22.85</text>
<rect x="1553.3" y="1911.3" width="200" height="85.5" fill="#fff"/>
<text x="1555.3" y="1980.3" font-size="79">22.89</text>
<rect x="1631.9" y="2262.3" width="200" height="85.5" fill="#fff"/>
<text x="1633.9" y="2331.3" font-size="79">22.92</text>
<text x="249" y="1543.5" font-size="77" letter-spacing="1.5">(b)</text>
<text transform="translate(86,2103.3) rotate(-90)" text-anchor="middle" font-size="75.6">Normalized intensity</text>
<text x="1105.7" y="2920.3" font-size="76.5">2</text>
<text x="1211.4" y="2920.3" font-size="76.5">(deg)</text>
<text transform="translate(1154.0,2920.3) scale(1.22,1)" stroke="#fff" stroke-width="1.4" font-family="'Liberation Serif', serif" font-style="italic" font-size="76.5">&#952;</text>
<rect x="1886.4" y="1531.9" width="317.0999999999999" height="254" fill="#fff" stroke="#000" stroke-width="1.6"/>
<line x1="1886.4" y1="1571.9" x2="2046" y2="1571.9" stroke="#000" stroke-width="2.2"/>
<text x="2064" y="1596.9" font-size="72">G1T</text>
<line x1="1886.4" y1="1658.9" x2="2046" y2="1658.9" stroke="#f00" stroke-width="2.2"/>
<text x="2064" y="1683.9" font-size="72">G3T</text>
<line x1="1886.4" y1="1745.9" x2="2046" y2="1745.9" stroke="#00f" stroke-width="2.2"/>
<text x="2064" y="1770.9" font-size="72">B3B</text>
</svg>
</body></html>
